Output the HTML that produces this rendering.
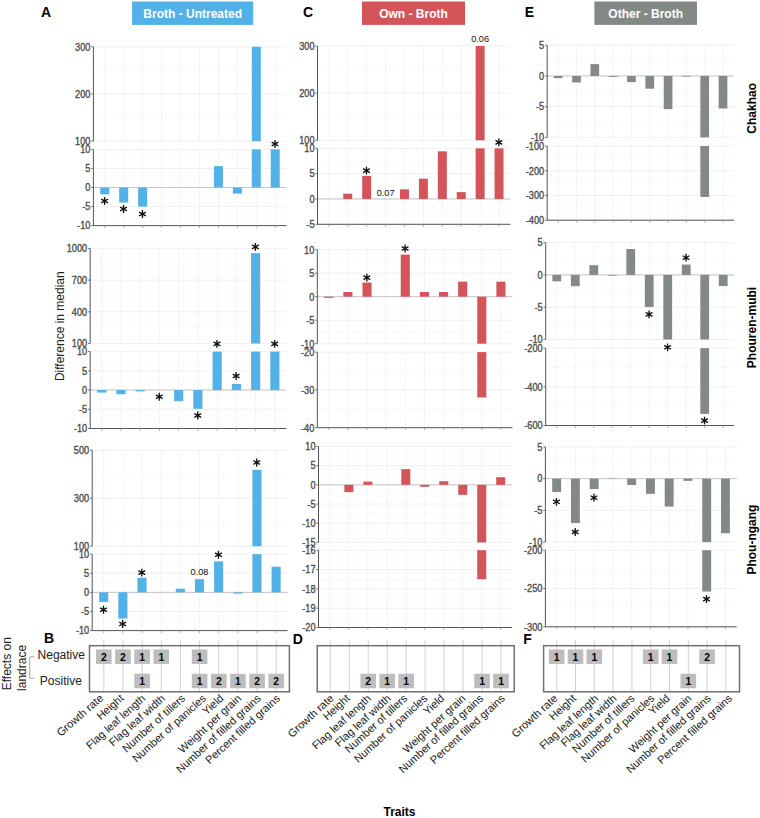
<!DOCTYPE html><html><head><meta charset="utf-8"><style>html,body{margin:0;padding:0;background:#fff;}svg{display:block;}</style></head><body>
<svg width="760" height="818" viewBox="0 0 760 818" font-family='"Liberation Sans", sans-serif'>
<rect width="760" height="818" fill="#fff"/>
<line x1="93.4" y1="70.41" x2="286.6" y2="70.41" stroke="#f5f5f5" stroke-width="0.6"/>
<line x1="93.4" y1="117.64" x2="286.6" y2="117.64" stroke="#f5f5f5" stroke-width="0.6"/>
<line x1="93.4" y1="46.8" x2="286.6" y2="46.8" stroke="#ececec" stroke-width="0.8"/>
<line x1="93.4" y1="94.03" x2="286.6" y2="94.03" stroke="#ececec" stroke-width="0.8"/>
<line x1="93.4" y1="141.25" x2="286.6" y2="141.25" stroke="#ececec" stroke-width="0.8"/>
<line x1="93.4" y1="158.93" x2="286.6" y2="158.93" stroke="#f5f5f5" stroke-width="0.6"/>
<line x1="93.4" y1="177.97" x2="286.6" y2="177.97" stroke="#f5f5f5" stroke-width="0.6"/>
<line x1="93.4" y1="197.03" x2="286.6" y2="197.03" stroke="#f5f5f5" stroke-width="0.6"/>
<line x1="93.4" y1="216.07" x2="286.6" y2="216.07" stroke="#f5f5f5" stroke-width="0.6"/>
<line x1="93.4" y1="149.4" x2="286.6" y2="149.4" stroke="#ececec" stroke-width="0.8"/>
<line x1="93.4" y1="168.45" x2="286.6" y2="168.45" stroke="#ececec" stroke-width="0.8"/>
<line x1="93.4" y1="187.5" x2="286.6" y2="187.5" stroke="#ececec" stroke-width="0.8"/>
<line x1="93.4" y1="206.55" x2="286.6" y2="206.55" stroke="#ececec" stroke-width="0.8"/>
<line x1="93.4" y1="225.6" x2="286.6" y2="225.6" stroke="#ececec" stroke-width="0.8"/>
<line x1="104.76" y1="46.8" x2="104.76" y2="141.25" stroke="#efefef" stroke-width="0.7"/>
<line x1="123.71" y1="46.8" x2="123.71" y2="141.25" stroke="#efefef" stroke-width="0.7"/>
<line x1="142.65" y1="46.8" x2="142.65" y2="141.25" stroke="#efefef" stroke-width="0.7"/>
<line x1="161.59" y1="46.8" x2="161.59" y2="141.25" stroke="#efefef" stroke-width="0.7"/>
<line x1="180.53" y1="46.8" x2="180.53" y2="141.25" stroke="#efefef" stroke-width="0.7"/>
<line x1="199.47" y1="46.8" x2="199.47" y2="141.25" stroke="#efefef" stroke-width="0.7"/>
<line x1="218.41" y1="46.8" x2="218.41" y2="141.25" stroke="#efefef" stroke-width="0.7"/>
<line x1="237.35" y1="46.8" x2="237.35" y2="141.25" stroke="#efefef" stroke-width="0.7"/>
<line x1="256.29" y1="46.8" x2="256.29" y2="141.25" stroke="#efefef" stroke-width="0.7"/>
<line x1="275.24" y1="46.8" x2="275.24" y2="141.25" stroke="#efefef" stroke-width="0.7"/>
<line x1="104.76" y1="149.4" x2="104.76" y2="225.6" stroke="#efefef" stroke-width="0.7"/>
<line x1="123.71" y1="149.4" x2="123.71" y2="225.6" stroke="#efefef" stroke-width="0.7"/>
<line x1="142.65" y1="149.4" x2="142.65" y2="225.6" stroke="#efefef" stroke-width="0.7"/>
<line x1="161.59" y1="149.4" x2="161.59" y2="225.6" stroke="#efefef" stroke-width="0.7"/>
<line x1="180.53" y1="149.4" x2="180.53" y2="225.6" stroke="#efefef" stroke-width="0.7"/>
<line x1="199.47" y1="149.4" x2="199.47" y2="225.6" stroke="#efefef" stroke-width="0.7"/>
<line x1="218.41" y1="149.4" x2="218.41" y2="225.6" stroke="#efefef" stroke-width="0.7"/>
<line x1="237.35" y1="149.4" x2="237.35" y2="225.6" stroke="#efefef" stroke-width="0.7"/>
<line x1="256.29" y1="149.4" x2="256.29" y2="225.6" stroke="#efefef" stroke-width="0.7"/>
<line x1="275.24" y1="149.4" x2="275.24" y2="225.6" stroke="#efefef" stroke-width="0.7"/>
<line x1="93.4" y1="187.5" x2="286.6" y2="187.5" stroke="#c2c2c2" stroke-width="0.9"/>
<rect x="100.27" y="187.5" width="9" height="6.86" fill="#52b1e6"/>
<rect x="119.21" y="187.5" width="9" height="15.05" fill="#52b1e6"/>
<rect x="138.15" y="187.5" width="9" height="19.05" fill="#52b1e6"/>
<rect x="213.91" y="166.16" width="9" height="21.34" fill="#52b1e6"/>
<rect x="232.85" y="187.5" width="9" height="6.1" fill="#52b1e6"/>
<rect x="251.8" y="46.8" width="9" height="94.45" fill="#52b1e6"/>
<rect x="251.8" y="149.4" width="9" height="38.1" fill="#52b1e6"/>
<rect x="270.74" y="149.4" width="9" height="38.1" fill="#52b1e6"/>
<line x1="93.4" y1="46.8" x2="93.4" y2="141.25" stroke="#555555" stroke-width="1"/>
<line x1="91.2" y1="46.8" x2="93.4" y2="46.8" stroke="#555555" stroke-width="0.8"/>
<text font-size="10" fill="#4d4d4d" stroke="#4d4d4d" stroke-width="0.35" text-anchor="end" font-weight="normal" transform="translate(90.4 50.6) scale(0.92 1)">300</text>
<line x1="91.2" y1="94.03" x2="93.4" y2="94.03" stroke="#555555" stroke-width="0.8"/>
<text font-size="10" fill="#4d4d4d" stroke="#4d4d4d" stroke-width="0.35" text-anchor="end" font-weight="normal" transform="translate(90.4 97.83) scale(0.92 1)">200</text>
<line x1="91.2" y1="141.25" x2="93.4" y2="141.25" stroke="#555555" stroke-width="0.8"/>
<text font-size="10" fill="#4d4d4d" stroke="#4d4d4d" stroke-width="0.35" text-anchor="end" font-weight="normal" transform="translate(90.4 145.05) scale(0.92 1)">100</text>
<line x1="93.4" y1="149.4" x2="93.4" y2="225.6" stroke="#555555" stroke-width="1"/>
<line x1="91.2" y1="149.4" x2="93.4" y2="149.4" stroke="#555555" stroke-width="0.8"/>
<text font-size="10" fill="#4d4d4d" stroke="#4d4d4d" stroke-width="0.35" text-anchor="end" font-weight="normal" transform="translate(90.4 153.2) scale(0.92 1)">10</text>
<line x1="91.2" y1="168.45" x2="93.4" y2="168.45" stroke="#555555" stroke-width="0.8"/>
<text font-size="10" fill="#4d4d4d" stroke="#4d4d4d" stroke-width="0.35" text-anchor="end" font-weight="normal" transform="translate(90.4 172.25) scale(0.92 1)">5</text>
<line x1="91.2" y1="187.5" x2="93.4" y2="187.5" stroke="#555555" stroke-width="0.8"/>
<text font-size="10" fill="#4d4d4d" stroke="#4d4d4d" stroke-width="0.35" text-anchor="end" font-weight="normal" transform="translate(90.4 191.3) scale(0.92 1)">0</text>
<line x1="91.2" y1="206.55" x2="93.4" y2="206.55" stroke="#555555" stroke-width="0.8"/>
<text font-size="10" fill="#4d4d4d" stroke="#4d4d4d" stroke-width="0.35" text-anchor="end" font-weight="normal" transform="translate(90.4 210.35) scale(0.92 1)">-5</text>
<line x1="91.2" y1="225.6" x2="93.4" y2="225.6" stroke="#555555" stroke-width="0.8"/>
<text font-size="10" fill="#4d4d4d" stroke="#4d4d4d" stroke-width="0.35" text-anchor="end" font-weight="normal" transform="translate(90.4 229.4) scale(0.92 1)">-10</text>
<line x1="93.4" y1="225.6" x2="286.6" y2="225.6" stroke="#555555" stroke-width="1"/>
<line x1="104.76" y1="225.6" x2="104.76" y2="228.1" stroke="#9a9a9a" stroke-width="0.8"/>
<line x1="123.71" y1="225.6" x2="123.71" y2="228.1" stroke="#9a9a9a" stroke-width="0.8"/>
<line x1="142.65" y1="225.6" x2="142.65" y2="228.1" stroke="#9a9a9a" stroke-width="0.8"/>
<line x1="161.59" y1="225.6" x2="161.59" y2="228.1" stroke="#9a9a9a" stroke-width="0.8"/>
<line x1="180.53" y1="225.6" x2="180.53" y2="228.1" stroke="#9a9a9a" stroke-width="0.8"/>
<line x1="199.47" y1="225.6" x2="199.47" y2="228.1" stroke="#9a9a9a" stroke-width="0.8"/>
<line x1="218.41" y1="225.6" x2="218.41" y2="228.1" stroke="#9a9a9a" stroke-width="0.8"/>
<line x1="237.35" y1="225.6" x2="237.35" y2="228.1" stroke="#9a9a9a" stroke-width="0.8"/>
<line x1="256.29" y1="225.6" x2="256.29" y2="228.1" stroke="#9a9a9a" stroke-width="0.8"/>
<line x1="275.24" y1="225.6" x2="275.24" y2="228.1" stroke="#9a9a9a" stroke-width="0.8"/>
<path d="M104.56 197.1L104.56 204.9M101.19 199.05L107.94 202.95M101.19 202.95L107.94 199.05" stroke="#111" stroke-width="1.35" stroke-linecap="butt"/>
<path d="M123.51 205.1L123.51 212.9M120.13 207.05L126.88 210.95M120.13 210.95L126.88 207.05" stroke="#111" stroke-width="1.35" stroke-linecap="butt"/>
<path d="M142.45 210.1L142.45 217.9M139.07 212.05L145.82 215.95M139.07 215.95L145.82 212.05" stroke="#111" stroke-width="1.35" stroke-linecap="butt"/>
<path d="M275.04 140.1L275.04 147.9M271.66 142.05L278.41 145.95M271.66 145.95L278.41 142.05" stroke="#111" stroke-width="1.35" stroke-linecap="butt"/>
<line x1="90.2" y1="264.25" x2="286.4" y2="264.25" stroke="#f5f5f5" stroke-width="0.6"/>
<line x1="90.2" y1="295.95" x2="286.4" y2="295.95" stroke="#f5f5f5" stroke-width="0.6"/>
<line x1="90.2" y1="327.65" x2="286.4" y2="327.65" stroke="#f5f5f5" stroke-width="0.6"/>
<line x1="90.2" y1="248.4" x2="286.4" y2="248.4" stroke="#ececec" stroke-width="0.8"/>
<line x1="90.2" y1="280.1" x2="286.4" y2="280.1" stroke="#ececec" stroke-width="0.8"/>
<line x1="90.2" y1="311.8" x2="286.4" y2="311.8" stroke="#ececec" stroke-width="0.8"/>
<line x1="90.2" y1="343.5" x2="286.4" y2="343.5" stroke="#ececec" stroke-width="0.8"/>
<line x1="90.2" y1="361.21" x2="286.4" y2="361.21" stroke="#f5f5f5" stroke-width="0.6"/>
<line x1="90.2" y1="380.44" x2="286.4" y2="380.44" stroke="#f5f5f5" stroke-width="0.6"/>
<line x1="90.2" y1="399.66" x2="286.4" y2="399.66" stroke="#f5f5f5" stroke-width="0.6"/>
<line x1="90.2" y1="418.89" x2="286.4" y2="418.89" stroke="#f5f5f5" stroke-width="0.6"/>
<line x1="90.2" y1="351.6" x2="286.4" y2="351.6" stroke="#ececec" stroke-width="0.8"/>
<line x1="90.2" y1="370.83" x2="286.4" y2="370.83" stroke="#ececec" stroke-width="0.8"/>
<line x1="90.2" y1="390.05" x2="286.4" y2="390.05" stroke="#ececec" stroke-width="0.8"/>
<line x1="90.2" y1="409.27" x2="286.4" y2="409.27" stroke="#ececec" stroke-width="0.8"/>
<line x1="90.2" y1="428.5" x2="286.4" y2="428.5" stroke="#ececec" stroke-width="0.8"/>
<line x1="101.74" y1="248.4" x2="101.74" y2="343.5" stroke="#efefef" stroke-width="0.7"/>
<line x1="120.98" y1="248.4" x2="120.98" y2="343.5" stroke="#efefef" stroke-width="0.7"/>
<line x1="140.21" y1="248.4" x2="140.21" y2="343.5" stroke="#efefef" stroke-width="0.7"/>
<line x1="159.45" y1="248.4" x2="159.45" y2="343.5" stroke="#efefef" stroke-width="0.7"/>
<line x1="178.68" y1="248.4" x2="178.68" y2="343.5" stroke="#efefef" stroke-width="0.7"/>
<line x1="197.92" y1="248.4" x2="197.92" y2="343.5" stroke="#efefef" stroke-width="0.7"/>
<line x1="217.15" y1="248.4" x2="217.15" y2="343.5" stroke="#efefef" stroke-width="0.7"/>
<line x1="236.39" y1="248.4" x2="236.39" y2="343.5" stroke="#efefef" stroke-width="0.7"/>
<line x1="255.62" y1="248.4" x2="255.62" y2="343.5" stroke="#efefef" stroke-width="0.7"/>
<line x1="274.86" y1="248.4" x2="274.86" y2="343.5" stroke="#efefef" stroke-width="0.7"/>
<line x1="101.74" y1="351.6" x2="101.74" y2="428.5" stroke="#efefef" stroke-width="0.7"/>
<line x1="120.98" y1="351.6" x2="120.98" y2="428.5" stroke="#efefef" stroke-width="0.7"/>
<line x1="140.21" y1="351.6" x2="140.21" y2="428.5" stroke="#efefef" stroke-width="0.7"/>
<line x1="159.45" y1="351.6" x2="159.45" y2="428.5" stroke="#efefef" stroke-width="0.7"/>
<line x1="178.68" y1="351.6" x2="178.68" y2="428.5" stroke="#efefef" stroke-width="0.7"/>
<line x1="197.92" y1="351.6" x2="197.92" y2="428.5" stroke="#efefef" stroke-width="0.7"/>
<line x1="217.15" y1="351.6" x2="217.15" y2="428.5" stroke="#efefef" stroke-width="0.7"/>
<line x1="236.39" y1="351.6" x2="236.39" y2="428.5" stroke="#efefef" stroke-width="0.7"/>
<line x1="255.62" y1="351.6" x2="255.62" y2="428.5" stroke="#efefef" stroke-width="0.7"/>
<line x1="274.86" y1="351.6" x2="274.86" y2="428.5" stroke="#efefef" stroke-width="0.7"/>
<line x1="90.2" y1="390.05" x2="286.4" y2="390.05" stroke="#c2c2c2" stroke-width="0.9"/>
<rect x="97.17" y="390.05" width="9.14" height="2.5" fill="#52b1e6"/>
<rect x="116.41" y="390.05" width="9.14" height="4.23" fill="#52b1e6"/>
<rect x="135.64" y="390.05" width="9.14" height="1.35" fill="#52b1e6"/>
<rect x="174.11" y="390.05" width="9.14" height="11.15" fill="#52b1e6"/>
<rect x="193.35" y="390.05" width="9.14" height="18.73" fill="#52b1e6"/>
<rect x="212.58" y="351.6" width="9.14" height="38.45" fill="#52b1e6"/>
<rect x="231.82" y="383.9" width="9.14" height="6.15" fill="#52b1e6"/>
<rect x="251.06" y="253.16" width="9.14" height="90.34" fill="#52b1e6"/>
<rect x="251.06" y="351.6" width="9.14" height="38.45" fill="#52b1e6"/>
<rect x="270.29" y="351.6" width="9.14" height="38.45" fill="#52b1e6"/>
<line x1="90.2" y1="248.4" x2="90.2" y2="343.5" stroke="#555555" stroke-width="1"/>
<line x1="88" y1="248.4" x2="90.2" y2="248.4" stroke="#555555" stroke-width="0.8"/>
<text font-size="10" fill="#4d4d4d" stroke="#4d4d4d" stroke-width="0.35" text-anchor="end" font-weight="normal" transform="translate(87.2 252.2) scale(0.92 1)">1000</text>
<line x1="88" y1="280.1" x2="90.2" y2="280.1" stroke="#555555" stroke-width="0.8"/>
<text font-size="10" fill="#4d4d4d" stroke="#4d4d4d" stroke-width="0.35" text-anchor="end" font-weight="normal" transform="translate(87.2 283.9) scale(0.92 1)">700</text>
<line x1="88" y1="311.8" x2="90.2" y2="311.8" stroke="#555555" stroke-width="0.8"/>
<text font-size="10" fill="#4d4d4d" stroke="#4d4d4d" stroke-width="0.35" text-anchor="end" font-weight="normal" transform="translate(87.2 315.6) scale(0.92 1)">400</text>
<line x1="88" y1="343.5" x2="90.2" y2="343.5" stroke="#555555" stroke-width="0.8"/>
<text font-size="10" fill="#4d4d4d" stroke="#4d4d4d" stroke-width="0.35" text-anchor="end" font-weight="normal" transform="translate(87.2 347.3) scale(0.92 1)">100</text>
<line x1="90.2" y1="351.6" x2="90.2" y2="428.5" stroke="#555555" stroke-width="1"/>
<line x1="88" y1="351.6" x2="90.2" y2="351.6" stroke="#555555" stroke-width="0.8"/>
<text font-size="10" fill="#4d4d4d" stroke="#4d4d4d" stroke-width="0.35" text-anchor="end" font-weight="normal" transform="translate(87.2 355.4) scale(0.92 1)">10</text>
<line x1="88" y1="370.83" x2="90.2" y2="370.83" stroke="#555555" stroke-width="0.8"/>
<text font-size="10" fill="#4d4d4d" stroke="#4d4d4d" stroke-width="0.35" text-anchor="end" font-weight="normal" transform="translate(87.2 374.63) scale(0.92 1)">5</text>
<line x1="88" y1="390.05" x2="90.2" y2="390.05" stroke="#555555" stroke-width="0.8"/>
<text font-size="10" fill="#4d4d4d" stroke="#4d4d4d" stroke-width="0.35" text-anchor="end" font-weight="normal" transform="translate(87.2 393.85) scale(0.92 1)">0</text>
<line x1="88" y1="409.27" x2="90.2" y2="409.27" stroke="#555555" stroke-width="0.8"/>
<text font-size="10" fill="#4d4d4d" stroke="#4d4d4d" stroke-width="0.35" text-anchor="end" font-weight="normal" transform="translate(87.2 413.07) scale(0.92 1)">-5</text>
<line x1="88" y1="428.5" x2="90.2" y2="428.5" stroke="#555555" stroke-width="0.8"/>
<text font-size="10" fill="#4d4d4d" stroke="#4d4d4d" stroke-width="0.35" text-anchor="end" font-weight="normal" transform="translate(87.2 432.3) scale(0.92 1)">-10</text>
<line x1="90.2" y1="428.5" x2="286.4" y2="428.5" stroke="#555555" stroke-width="1"/>
<line x1="101.74" y1="428.5" x2="101.74" y2="431" stroke="#9a9a9a" stroke-width="0.8"/>
<line x1="120.98" y1="428.5" x2="120.98" y2="431" stroke="#9a9a9a" stroke-width="0.8"/>
<line x1="140.21" y1="428.5" x2="140.21" y2="431" stroke="#9a9a9a" stroke-width="0.8"/>
<line x1="159.45" y1="428.5" x2="159.45" y2="431" stroke="#9a9a9a" stroke-width="0.8"/>
<line x1="178.68" y1="428.5" x2="178.68" y2="431" stroke="#9a9a9a" stroke-width="0.8"/>
<line x1="197.92" y1="428.5" x2="197.92" y2="431" stroke="#9a9a9a" stroke-width="0.8"/>
<line x1="217.15" y1="428.5" x2="217.15" y2="431" stroke="#9a9a9a" stroke-width="0.8"/>
<line x1="236.39" y1="428.5" x2="236.39" y2="431" stroke="#9a9a9a" stroke-width="0.8"/>
<line x1="255.62" y1="428.5" x2="255.62" y2="431" stroke="#9a9a9a" stroke-width="0.8"/>
<line x1="274.86" y1="428.5" x2="274.86" y2="431" stroke="#9a9a9a" stroke-width="0.8"/>
<path d="M159.25 392.85L159.25 400.65M155.87 394.8L162.62 398.7M155.87 398.7L162.62 394.8" stroke="#111" stroke-width="1.35" stroke-linecap="butt"/>
<path d="M197.72 411.6L197.72 419.4M194.34 413.55L201.1 417.45M194.34 417.45L201.1 413.55" stroke="#111" stroke-width="1.35" stroke-linecap="butt"/>
<path d="M216.95 340L216.95 347.8M213.58 341.95L220.33 345.85M213.58 345.85L220.33 341.95" stroke="#111" stroke-width="1.35" stroke-linecap="butt"/>
<path d="M236.19 372.1L236.19 379.9M232.81 374.05L239.57 377.95M232.81 377.95L239.57 374.05" stroke="#111" stroke-width="1.35" stroke-linecap="butt"/>
<path d="M255.42 243L255.42 250.8M252.05 244.95L258.8 248.85M252.05 248.85L258.8 244.95" stroke="#111" stroke-width="1.35" stroke-linecap="butt"/>
<path d="M274.66 340L274.66 347.8M271.28 341.95L278.04 345.85M271.28 345.85L278.04 341.95" stroke="#111" stroke-width="1.35" stroke-linecap="butt"/>
<line x1="92.2" y1="474.25" x2="287.6" y2="474.25" stroke="#f5f5f5" stroke-width="0.6"/>
<line x1="92.2" y1="522.25" x2="287.6" y2="522.25" stroke="#f5f5f5" stroke-width="0.6"/>
<line x1="92.2" y1="450.25" x2="287.6" y2="450.25" stroke="#ececec" stroke-width="0.8"/>
<line x1="92.2" y1="498.25" x2="287.6" y2="498.25" stroke="#ececec" stroke-width="0.8"/>
<line x1="92.2" y1="546.25" x2="287.6" y2="546.25" stroke="#ececec" stroke-width="0.8"/>
<line x1="92.2" y1="563.66" x2="287.6" y2="563.66" stroke="#f5f5f5" stroke-width="0.6"/>
<line x1="92.2" y1="582.79" x2="287.6" y2="582.79" stroke="#f5f5f5" stroke-width="0.6"/>
<line x1="92.2" y1="601.91" x2="287.6" y2="601.91" stroke="#f5f5f5" stroke-width="0.6"/>
<line x1="92.2" y1="621.04" x2="287.6" y2="621.04" stroke="#f5f5f5" stroke-width="0.6"/>
<line x1="92.2" y1="554.1" x2="287.6" y2="554.1" stroke="#ececec" stroke-width="0.8"/>
<line x1="92.2" y1="573.23" x2="287.6" y2="573.23" stroke="#ececec" stroke-width="0.8"/>
<line x1="92.2" y1="592.35" x2="287.6" y2="592.35" stroke="#ececec" stroke-width="0.8"/>
<line x1="92.2" y1="611.48" x2="287.6" y2="611.48" stroke="#ececec" stroke-width="0.8"/>
<line x1="92.2" y1="630.6" x2="287.6" y2="630.6" stroke="#ececec" stroke-width="0.8"/>
<line x1="103.69" y1="450.25" x2="103.69" y2="546.25" stroke="#efefef" stroke-width="0.7"/>
<line x1="122.85" y1="450.25" x2="122.85" y2="546.25" stroke="#efefef" stroke-width="0.7"/>
<line x1="142.01" y1="450.25" x2="142.01" y2="546.25" stroke="#efefef" stroke-width="0.7"/>
<line x1="161.16" y1="450.25" x2="161.16" y2="546.25" stroke="#efefef" stroke-width="0.7"/>
<line x1="180.32" y1="450.25" x2="180.32" y2="546.25" stroke="#efefef" stroke-width="0.7"/>
<line x1="199.48" y1="450.25" x2="199.48" y2="546.25" stroke="#efefef" stroke-width="0.7"/>
<line x1="218.64" y1="450.25" x2="218.64" y2="546.25" stroke="#efefef" stroke-width="0.7"/>
<line x1="237.79" y1="450.25" x2="237.79" y2="546.25" stroke="#efefef" stroke-width="0.7"/>
<line x1="256.95" y1="450.25" x2="256.95" y2="546.25" stroke="#efefef" stroke-width="0.7"/>
<line x1="276.11" y1="450.25" x2="276.11" y2="546.25" stroke="#efefef" stroke-width="0.7"/>
<line x1="103.69" y1="554.1" x2="103.69" y2="630.6" stroke="#efefef" stroke-width="0.7"/>
<line x1="122.85" y1="554.1" x2="122.85" y2="630.6" stroke="#efefef" stroke-width="0.7"/>
<line x1="142.01" y1="554.1" x2="142.01" y2="630.6" stroke="#efefef" stroke-width="0.7"/>
<line x1="161.16" y1="554.1" x2="161.16" y2="630.6" stroke="#efefef" stroke-width="0.7"/>
<line x1="180.32" y1="554.1" x2="180.32" y2="630.6" stroke="#efefef" stroke-width="0.7"/>
<line x1="199.48" y1="554.1" x2="199.48" y2="630.6" stroke="#efefef" stroke-width="0.7"/>
<line x1="218.64" y1="554.1" x2="218.64" y2="630.6" stroke="#efefef" stroke-width="0.7"/>
<line x1="237.79" y1="554.1" x2="237.79" y2="630.6" stroke="#efefef" stroke-width="0.7"/>
<line x1="256.95" y1="554.1" x2="256.95" y2="630.6" stroke="#efefef" stroke-width="0.7"/>
<line x1="276.11" y1="554.1" x2="276.11" y2="630.6" stroke="#efefef" stroke-width="0.7"/>
<line x1="92.2" y1="592.35" x2="287.6" y2="592.35" stroke="#c2c2c2" stroke-width="0.9"/>
<rect x="99.14" y="592.35" width="9.1" height="9.56" fill="#52b1e6"/>
<rect x="118.3" y="592.35" width="9.1" height="26.2" fill="#52b1e6"/>
<rect x="137.46" y="577.82" width="9.1" height="14.53" fill="#52b1e6"/>
<rect x="175.77" y="588.72" width="9.1" height="3.63" fill="#52b1e6"/>
<rect x="194.93" y="579.15" width="9.1" height="13.2" fill="#52b1e6"/>
<rect x="214.09" y="561.37" width="9.1" height="30.98" fill="#52b1e6"/>
<rect x="233.24" y="592.35" width="9.1" height="1.34" fill="#52b1e6"/>
<rect x="252.4" y="469.93" width="9.1" height="76.32" fill="#52b1e6"/>
<rect x="252.4" y="554.1" width="9.1" height="38.25" fill="#52b1e6"/>
<rect x="271.56" y="566.72" width="9.1" height="25.63" fill="#52b1e6"/>
<line x1="92.2" y1="450.25" x2="92.2" y2="546.25" stroke="#555555" stroke-width="1"/>
<line x1="90" y1="450.25" x2="92.2" y2="450.25" stroke="#555555" stroke-width="0.8"/>
<text font-size="10" fill="#4d4d4d" stroke="#4d4d4d" stroke-width="0.35" text-anchor="end" font-weight="normal" transform="translate(89.2 454.05) scale(0.92 1)">500</text>
<line x1="90" y1="498.25" x2="92.2" y2="498.25" stroke="#555555" stroke-width="0.8"/>
<text font-size="10" fill="#4d4d4d" stroke="#4d4d4d" stroke-width="0.35" text-anchor="end" font-weight="normal" transform="translate(89.2 502.05) scale(0.92 1)">300</text>
<line x1="90" y1="546.25" x2="92.2" y2="546.25" stroke="#555555" stroke-width="0.8"/>
<text font-size="10" fill="#4d4d4d" stroke="#4d4d4d" stroke-width="0.35" text-anchor="end" font-weight="normal" transform="translate(89.2 550.05) scale(0.92 1)">100</text>
<line x1="92.2" y1="554.1" x2="92.2" y2="630.6" stroke="#555555" stroke-width="1"/>
<line x1="90" y1="554.1" x2="92.2" y2="554.1" stroke="#555555" stroke-width="0.8"/>
<text font-size="10" fill="#4d4d4d" stroke="#4d4d4d" stroke-width="0.35" text-anchor="end" font-weight="normal" transform="translate(89.2 557.9) scale(0.92 1)">10</text>
<line x1="90" y1="573.23" x2="92.2" y2="573.23" stroke="#555555" stroke-width="0.8"/>
<text font-size="10" fill="#4d4d4d" stroke="#4d4d4d" stroke-width="0.35" text-anchor="end" font-weight="normal" transform="translate(89.2 577.02) scale(0.92 1)">5</text>
<line x1="90" y1="592.35" x2="92.2" y2="592.35" stroke="#555555" stroke-width="0.8"/>
<text font-size="10" fill="#4d4d4d" stroke="#4d4d4d" stroke-width="0.35" text-anchor="end" font-weight="normal" transform="translate(89.2 596.15) scale(0.92 1)">0</text>
<line x1="90" y1="611.48" x2="92.2" y2="611.48" stroke="#555555" stroke-width="0.8"/>
<text font-size="10" fill="#4d4d4d" stroke="#4d4d4d" stroke-width="0.35" text-anchor="end" font-weight="normal" transform="translate(89.2 615.27) scale(0.92 1)">-5</text>
<line x1="90" y1="630.6" x2="92.2" y2="630.6" stroke="#555555" stroke-width="0.8"/>
<text font-size="10" fill="#4d4d4d" stroke="#4d4d4d" stroke-width="0.35" text-anchor="end" font-weight="normal" transform="translate(89.2 634.4) scale(0.92 1)">-10</text>
<line x1="92.2" y1="630.6" x2="287.6" y2="630.6" stroke="#555555" stroke-width="1"/>
<line x1="103.69" y1="630.6" x2="103.69" y2="633.1" stroke="#9a9a9a" stroke-width="0.8"/>
<line x1="122.85" y1="630.6" x2="122.85" y2="633.1" stroke="#9a9a9a" stroke-width="0.8"/>
<line x1="142.01" y1="630.6" x2="142.01" y2="633.1" stroke="#9a9a9a" stroke-width="0.8"/>
<line x1="161.16" y1="630.6" x2="161.16" y2="633.1" stroke="#9a9a9a" stroke-width="0.8"/>
<line x1="180.32" y1="630.6" x2="180.32" y2="633.1" stroke="#9a9a9a" stroke-width="0.8"/>
<line x1="199.48" y1="630.6" x2="199.48" y2="633.1" stroke="#9a9a9a" stroke-width="0.8"/>
<line x1="218.64" y1="630.6" x2="218.64" y2="633.1" stroke="#9a9a9a" stroke-width="0.8"/>
<line x1="237.79" y1="630.6" x2="237.79" y2="633.1" stroke="#9a9a9a" stroke-width="0.8"/>
<line x1="256.95" y1="630.6" x2="256.95" y2="633.1" stroke="#9a9a9a" stroke-width="0.8"/>
<line x1="276.11" y1="630.6" x2="276.11" y2="633.1" stroke="#9a9a9a" stroke-width="0.8"/>
<path d="M103.49 605.85L103.49 613.65M100.12 607.8L106.87 611.7M100.12 611.7L106.87 607.8" stroke="#111" stroke-width="1.35" stroke-linecap="butt"/>
<path d="M122.65 620.1L122.65 627.9M119.27 622.05L126.03 625.95M119.27 625.95L126.03 622.05" stroke="#111" stroke-width="1.35" stroke-linecap="butt"/>
<path d="M141.81 568.7L141.81 576.5M138.43 570.65L145.19 574.55M138.43 574.55L145.19 570.65" stroke="#111" stroke-width="1.35" stroke-linecap="butt"/>
<path d="M218.44 550.85L218.44 558.65M215.06 552.8L221.81 556.7M215.06 556.7L221.81 552.8" stroke="#111" stroke-width="1.35" stroke-linecap="butt"/>
<path d="M256.75 458.6L256.75 466.4M253.37 460.55L260.13 464.45M253.37 464.45L260.13 460.55" stroke="#111" stroke-width="1.35" stroke-linecap="butt"/>
<text x="199.48" y="575.4" font-size="9.2" fill="#111" text-anchor="middle" font-weight="normal" >0.08</text>
<line x1="317.5" y1="69.58" x2="510.4" y2="69.58" stroke="#f5f5f5" stroke-width="0.6"/>
<line x1="317.5" y1="116.73" x2="510.4" y2="116.73" stroke="#f5f5f5" stroke-width="0.6"/>
<line x1="317.5" y1="46" x2="510.4" y2="46" stroke="#ececec" stroke-width="0.8"/>
<line x1="317.5" y1="93.15" x2="510.4" y2="93.15" stroke="#ececec" stroke-width="0.8"/>
<line x1="317.5" y1="140.3" x2="510.4" y2="140.3" stroke="#ececec" stroke-width="0.8"/>
<line x1="317.5" y1="160.97" x2="510.4" y2="160.97" stroke="#f5f5f5" stroke-width="0.6"/>
<line x1="317.5" y1="186.3" x2="510.4" y2="186.3" stroke="#f5f5f5" stroke-width="0.6"/>
<line x1="317.5" y1="211.63" x2="510.4" y2="211.63" stroke="#f5f5f5" stroke-width="0.6"/>
<line x1="317.5" y1="148.3" x2="510.4" y2="148.3" stroke="#ececec" stroke-width="0.8"/>
<line x1="317.5" y1="173.63" x2="510.4" y2="173.63" stroke="#ececec" stroke-width="0.8"/>
<line x1="317.5" y1="198.97" x2="510.4" y2="198.97" stroke="#ececec" stroke-width="0.8"/>
<line x1="317.5" y1="224.3" x2="510.4" y2="224.3" stroke="#ececec" stroke-width="0.8"/>
<line x1="328.85" y1="46" x2="328.85" y2="140.3" stroke="#efefef" stroke-width="0.7"/>
<line x1="347.76" y1="46" x2="347.76" y2="140.3" stroke="#efefef" stroke-width="0.7"/>
<line x1="366.67" y1="46" x2="366.67" y2="140.3" stroke="#efefef" stroke-width="0.7"/>
<line x1="385.58" y1="46" x2="385.58" y2="140.3" stroke="#efefef" stroke-width="0.7"/>
<line x1="404.49" y1="46" x2="404.49" y2="140.3" stroke="#efefef" stroke-width="0.7"/>
<line x1="423.41" y1="46" x2="423.41" y2="140.3" stroke="#efefef" stroke-width="0.7"/>
<line x1="442.32" y1="46" x2="442.32" y2="140.3" stroke="#efefef" stroke-width="0.7"/>
<line x1="461.23" y1="46" x2="461.23" y2="140.3" stroke="#efefef" stroke-width="0.7"/>
<line x1="480.14" y1="46" x2="480.14" y2="140.3" stroke="#efefef" stroke-width="0.7"/>
<line x1="499.05" y1="46" x2="499.05" y2="140.3" stroke="#efefef" stroke-width="0.7"/>
<line x1="328.85" y1="148.3" x2="328.85" y2="224.3" stroke="#efefef" stroke-width="0.7"/>
<line x1="347.76" y1="148.3" x2="347.76" y2="224.3" stroke="#efefef" stroke-width="0.7"/>
<line x1="366.67" y1="148.3" x2="366.67" y2="224.3" stroke="#efefef" stroke-width="0.7"/>
<line x1="385.58" y1="148.3" x2="385.58" y2="224.3" stroke="#efefef" stroke-width="0.7"/>
<line x1="404.49" y1="148.3" x2="404.49" y2="224.3" stroke="#efefef" stroke-width="0.7"/>
<line x1="423.41" y1="148.3" x2="423.41" y2="224.3" stroke="#efefef" stroke-width="0.7"/>
<line x1="442.32" y1="148.3" x2="442.32" y2="224.3" stroke="#efefef" stroke-width="0.7"/>
<line x1="461.23" y1="148.3" x2="461.23" y2="224.3" stroke="#efefef" stroke-width="0.7"/>
<line x1="480.14" y1="148.3" x2="480.14" y2="224.3" stroke="#efefef" stroke-width="0.7"/>
<line x1="499.05" y1="148.3" x2="499.05" y2="224.3" stroke="#efefef" stroke-width="0.7"/>
<line x1="317.5" y1="198.97" x2="510.4" y2="198.97" stroke="#c2c2c2" stroke-width="0.9"/>
<rect x="343.27" y="193.65" width="8.98" height="5.32" fill="#d3555a"/>
<rect x="362.18" y="175.91" width="8.98" height="23.05" fill="#d3555a"/>
<rect x="400" y="189.34" width="8.98" height="9.63" fill="#d3555a"/>
<rect x="418.91" y="178.7" width="8.98" height="20.27" fill="#d3555a"/>
<rect x="437.83" y="151.34" width="8.98" height="47.63" fill="#d3555a"/>
<rect x="456.74" y="192.13" width="8.98" height="6.84" fill="#d3555a"/>
<rect x="475.65" y="46" width="8.98" height="94.3" fill="#d3555a"/>
<rect x="475.65" y="148.3" width="8.98" height="50.67" fill="#d3555a"/>
<rect x="494.56" y="148.3" width="8.98" height="50.67" fill="#d3555a"/>
<line x1="317.5" y1="46" x2="317.5" y2="140.3" stroke="#555555" stroke-width="1"/>
<line x1="315.3" y1="46" x2="317.5" y2="46" stroke="#555555" stroke-width="0.8"/>
<text font-size="10" fill="#4d4d4d" stroke="#4d4d4d" stroke-width="0.35" text-anchor="end" font-weight="normal" transform="translate(314.5 49.8) scale(0.92 1)">300</text>
<line x1="315.3" y1="93.15" x2="317.5" y2="93.15" stroke="#555555" stroke-width="0.8"/>
<text font-size="10" fill="#4d4d4d" stroke="#4d4d4d" stroke-width="0.35" text-anchor="end" font-weight="normal" transform="translate(314.5 96.95) scale(0.92 1)">200</text>
<line x1="315.3" y1="140.3" x2="317.5" y2="140.3" stroke="#555555" stroke-width="0.8"/>
<text font-size="10" fill="#4d4d4d" stroke="#4d4d4d" stroke-width="0.35" text-anchor="end" font-weight="normal" transform="translate(314.5 144.1) scale(0.92 1)">100</text>
<line x1="317.5" y1="148.3" x2="317.5" y2="224.3" stroke="#555555" stroke-width="1"/>
<line x1="315.3" y1="148.3" x2="317.5" y2="148.3" stroke="#555555" stroke-width="0.8"/>
<text font-size="10" fill="#4d4d4d" stroke="#4d4d4d" stroke-width="0.35" text-anchor="end" font-weight="normal" transform="translate(314.5 152.1) scale(0.92 1)">10</text>
<line x1="315.3" y1="173.63" x2="317.5" y2="173.63" stroke="#555555" stroke-width="0.8"/>
<text font-size="10" fill="#4d4d4d" stroke="#4d4d4d" stroke-width="0.35" text-anchor="end" font-weight="normal" transform="translate(314.5 177.43) scale(0.92 1)">5</text>
<line x1="315.3" y1="198.97" x2="317.5" y2="198.97" stroke="#555555" stroke-width="0.8"/>
<text font-size="10" fill="#4d4d4d" stroke="#4d4d4d" stroke-width="0.35" text-anchor="end" font-weight="normal" transform="translate(314.5 202.77) scale(0.92 1)">0</text>
<line x1="315.3" y1="224.3" x2="317.5" y2="224.3" stroke="#555555" stroke-width="0.8"/>
<text font-size="10" fill="#4d4d4d" stroke="#4d4d4d" stroke-width="0.35" text-anchor="end" font-weight="normal" transform="translate(314.5 228.1) scale(0.92 1)">-5</text>
<line x1="317.5" y1="224.3" x2="510.4" y2="224.3" stroke="#555555" stroke-width="1"/>
<line x1="328.85" y1="224.3" x2="328.85" y2="226.8" stroke="#9a9a9a" stroke-width="0.8"/>
<line x1="347.76" y1="224.3" x2="347.76" y2="226.8" stroke="#9a9a9a" stroke-width="0.8"/>
<line x1="366.67" y1="224.3" x2="366.67" y2="226.8" stroke="#9a9a9a" stroke-width="0.8"/>
<line x1="385.58" y1="224.3" x2="385.58" y2="226.8" stroke="#9a9a9a" stroke-width="0.8"/>
<line x1="404.49" y1="224.3" x2="404.49" y2="226.8" stroke="#9a9a9a" stroke-width="0.8"/>
<line x1="423.41" y1="224.3" x2="423.41" y2="226.8" stroke="#9a9a9a" stroke-width="0.8"/>
<line x1="442.32" y1="224.3" x2="442.32" y2="226.8" stroke="#9a9a9a" stroke-width="0.8"/>
<line x1="461.23" y1="224.3" x2="461.23" y2="226.8" stroke="#9a9a9a" stroke-width="0.8"/>
<line x1="480.14" y1="224.3" x2="480.14" y2="226.8" stroke="#9a9a9a" stroke-width="0.8"/>
<line x1="499.05" y1="224.3" x2="499.05" y2="226.8" stroke="#9a9a9a" stroke-width="0.8"/>
<path d="M366.47 166.7L366.47 174.5M363.09 168.65L369.85 172.55M363.09 172.55L369.85 168.65" stroke="#111" stroke-width="1.35" stroke-linecap="butt"/>
<path d="M498.85 138.5L498.85 146.3M495.48 140.45L502.23 144.35M495.48 144.35L502.23 140.45" stroke="#111" stroke-width="1.35" stroke-linecap="butt"/>
<text x="385.58" y="195.6" font-size="9.2" fill="#111" text-anchor="middle" font-weight="normal" >0.07</text>
<text x="480.14" y="41.9" font-size="9.2" fill="#111" text-anchor="middle" font-weight="normal" >0.06</text>
<line x1="317.3" y1="261.45" x2="512.4" y2="261.45" stroke="#f5f5f5" stroke-width="0.6"/>
<line x1="317.3" y1="284.95" x2="512.4" y2="284.95" stroke="#f5f5f5" stroke-width="0.6"/>
<line x1="317.3" y1="308.45" x2="512.4" y2="308.45" stroke="#f5f5f5" stroke-width="0.6"/>
<line x1="317.3" y1="331.95" x2="512.4" y2="331.95" stroke="#f5f5f5" stroke-width="0.6"/>
<line x1="317.3" y1="249.7" x2="512.4" y2="249.7" stroke="#ececec" stroke-width="0.8"/>
<line x1="317.3" y1="273.2" x2="512.4" y2="273.2" stroke="#ececec" stroke-width="0.8"/>
<line x1="317.3" y1="296.7" x2="512.4" y2="296.7" stroke="#ececec" stroke-width="0.8"/>
<line x1="317.3" y1="320.2" x2="512.4" y2="320.2" stroke="#ececec" stroke-width="0.8"/>
<line x1="317.3" y1="343.7" x2="512.4" y2="343.7" stroke="#ececec" stroke-width="0.8"/>
<line x1="317.3" y1="371" x2="512.4" y2="371" stroke="#f5f5f5" stroke-width="0.6"/>
<line x1="317.3" y1="408.8" x2="512.4" y2="408.8" stroke="#f5f5f5" stroke-width="0.6"/>
<line x1="317.3" y1="352.1" x2="512.4" y2="352.1" stroke="#ececec" stroke-width="0.8"/>
<line x1="317.3" y1="389.9" x2="512.4" y2="389.9" stroke="#ececec" stroke-width="0.8"/>
<line x1="317.3" y1="427.7" x2="512.4" y2="427.7" stroke="#ececec" stroke-width="0.8"/>
<line x1="328.78" y1="249.7" x2="328.78" y2="343.7" stroke="#efefef" stroke-width="0.7"/>
<line x1="347.9" y1="249.7" x2="347.9" y2="343.7" stroke="#efefef" stroke-width="0.7"/>
<line x1="367.03" y1="249.7" x2="367.03" y2="343.7" stroke="#efefef" stroke-width="0.7"/>
<line x1="386.16" y1="249.7" x2="386.16" y2="343.7" stroke="#efefef" stroke-width="0.7"/>
<line x1="405.29" y1="249.7" x2="405.29" y2="343.7" stroke="#efefef" stroke-width="0.7"/>
<line x1="424.41" y1="249.7" x2="424.41" y2="343.7" stroke="#efefef" stroke-width="0.7"/>
<line x1="443.54" y1="249.7" x2="443.54" y2="343.7" stroke="#efefef" stroke-width="0.7"/>
<line x1="462.67" y1="249.7" x2="462.67" y2="343.7" stroke="#efefef" stroke-width="0.7"/>
<line x1="481.8" y1="249.7" x2="481.8" y2="343.7" stroke="#efefef" stroke-width="0.7"/>
<line x1="500.92" y1="249.7" x2="500.92" y2="343.7" stroke="#efefef" stroke-width="0.7"/>
<line x1="328.78" y1="352.1" x2="328.78" y2="427.7" stroke="#efefef" stroke-width="0.7"/>
<line x1="347.9" y1="352.1" x2="347.9" y2="427.7" stroke="#efefef" stroke-width="0.7"/>
<line x1="367.03" y1="352.1" x2="367.03" y2="427.7" stroke="#efefef" stroke-width="0.7"/>
<line x1="386.16" y1="352.1" x2="386.16" y2="427.7" stroke="#efefef" stroke-width="0.7"/>
<line x1="405.29" y1="352.1" x2="405.29" y2="427.7" stroke="#efefef" stroke-width="0.7"/>
<line x1="424.41" y1="352.1" x2="424.41" y2="427.7" stroke="#efefef" stroke-width="0.7"/>
<line x1="443.54" y1="352.1" x2="443.54" y2="427.7" stroke="#efefef" stroke-width="0.7"/>
<line x1="462.67" y1="352.1" x2="462.67" y2="427.7" stroke="#efefef" stroke-width="0.7"/>
<line x1="481.8" y1="352.1" x2="481.8" y2="427.7" stroke="#efefef" stroke-width="0.7"/>
<line x1="500.92" y1="352.1" x2="500.92" y2="427.7" stroke="#efefef" stroke-width="0.7"/>
<line x1="317.3" y1="296.7" x2="512.4" y2="296.7" stroke="#c2c2c2" stroke-width="0.9"/>
<rect x="324.23" y="296.7" width="9.09" height="1.18" fill="#d3555a"/>
<rect x="343.36" y="292" width="9.09" height="4.7" fill="#d3555a"/>
<rect x="362.49" y="282.6" width="9.09" height="14.1" fill="#d3555a"/>
<rect x="400.74" y="254.59" width="9.09" height="42.11" fill="#d3555a"/>
<rect x="419.87" y="292" width="9.09" height="4.7" fill="#d3555a"/>
<rect x="439" y="292" width="9.09" height="4.7" fill="#d3555a"/>
<rect x="458.13" y="281.66" width="9.09" height="15.04" fill="#d3555a"/>
<rect x="477.25" y="296.7" width="9.09" height="47" fill="#d3555a"/>
<rect x="477.25" y="352.1" width="9.09" height="45.36" fill="#d3555a"/>
<rect x="496.38" y="281.66" width="9.09" height="15.04" fill="#d3555a"/>
<line x1="317.3" y1="249.7" x2="317.3" y2="343.7" stroke="#555555" stroke-width="1"/>
<line x1="315.1" y1="249.7" x2="317.3" y2="249.7" stroke="#555555" stroke-width="0.8"/>
<text font-size="10" fill="#4d4d4d" stroke="#4d4d4d" stroke-width="0.35" text-anchor="end" font-weight="normal" transform="translate(314.3 253.5) scale(0.92 1)">10</text>
<line x1="315.1" y1="273.2" x2="317.3" y2="273.2" stroke="#555555" stroke-width="0.8"/>
<text font-size="10" fill="#4d4d4d" stroke="#4d4d4d" stroke-width="0.35" text-anchor="end" font-weight="normal" transform="translate(314.3 277) scale(0.92 1)">5</text>
<line x1="315.1" y1="296.7" x2="317.3" y2="296.7" stroke="#555555" stroke-width="0.8"/>
<text font-size="10" fill="#4d4d4d" stroke="#4d4d4d" stroke-width="0.35" text-anchor="end" font-weight="normal" transform="translate(314.3 300.5) scale(0.92 1)">0</text>
<line x1="315.1" y1="320.2" x2="317.3" y2="320.2" stroke="#555555" stroke-width="0.8"/>
<text font-size="10" fill="#4d4d4d" stroke="#4d4d4d" stroke-width="0.35" text-anchor="end" font-weight="normal" transform="translate(314.3 324) scale(0.92 1)">-5</text>
<line x1="315.1" y1="343.7" x2="317.3" y2="343.7" stroke="#555555" stroke-width="0.8"/>
<text font-size="10" fill="#4d4d4d" stroke="#4d4d4d" stroke-width="0.35" text-anchor="end" font-weight="normal" transform="translate(314.3 347.5) scale(0.92 1)">-10</text>
<line x1="317.3" y1="352.1" x2="317.3" y2="427.7" stroke="#555555" stroke-width="1"/>
<line x1="315.1" y1="352.1" x2="317.3" y2="352.1" stroke="#555555" stroke-width="0.8"/>
<text font-size="10" fill="#4d4d4d" stroke="#4d4d4d" stroke-width="0.35" text-anchor="end" font-weight="normal" transform="translate(314.3 355.9) scale(0.92 1)">-20</text>
<line x1="315.1" y1="389.9" x2="317.3" y2="389.9" stroke="#555555" stroke-width="0.8"/>
<text font-size="10" fill="#4d4d4d" stroke="#4d4d4d" stroke-width="0.35" text-anchor="end" font-weight="normal" transform="translate(314.3 393.7) scale(0.92 1)">-30</text>
<line x1="315.1" y1="427.7" x2="317.3" y2="427.7" stroke="#555555" stroke-width="0.8"/>
<text font-size="10" fill="#4d4d4d" stroke="#4d4d4d" stroke-width="0.35" text-anchor="end" font-weight="normal" transform="translate(314.3 431.5) scale(0.92 1)">-40</text>
<line x1="317.3" y1="427.7" x2="512.4" y2="427.7" stroke="#555555" stroke-width="1"/>
<line x1="328.78" y1="427.7" x2="328.78" y2="430.2" stroke="#9a9a9a" stroke-width="0.8"/>
<line x1="347.9" y1="427.7" x2="347.9" y2="430.2" stroke="#9a9a9a" stroke-width="0.8"/>
<line x1="367.03" y1="427.7" x2="367.03" y2="430.2" stroke="#9a9a9a" stroke-width="0.8"/>
<line x1="386.16" y1="427.7" x2="386.16" y2="430.2" stroke="#9a9a9a" stroke-width="0.8"/>
<line x1="405.29" y1="427.7" x2="405.29" y2="430.2" stroke="#9a9a9a" stroke-width="0.8"/>
<line x1="424.41" y1="427.7" x2="424.41" y2="430.2" stroke="#9a9a9a" stroke-width="0.8"/>
<line x1="443.54" y1="427.7" x2="443.54" y2="430.2" stroke="#9a9a9a" stroke-width="0.8"/>
<line x1="462.67" y1="427.7" x2="462.67" y2="430.2" stroke="#9a9a9a" stroke-width="0.8"/>
<line x1="481.8" y1="427.7" x2="481.8" y2="430.2" stroke="#9a9a9a" stroke-width="0.8"/>
<line x1="500.92" y1="427.7" x2="500.92" y2="430.2" stroke="#9a9a9a" stroke-width="0.8"/>
<path d="M366.83 273.7L366.83 281.5M363.45 275.65L370.21 279.55M363.45 279.55L370.21 275.65" stroke="#111" stroke-width="1.35" stroke-linecap="butt"/>
<path d="M405.09 244.6L405.09 252.4M401.71 246.55L408.46 250.45M401.71 250.45L408.46 246.55" stroke="#111" stroke-width="1.35" stroke-linecap="butt"/>
<line x1="318.5" y1="456.09" x2="512.1" y2="456.09" stroke="#f5f5f5" stroke-width="0.6"/>
<line x1="318.5" y1="475.27" x2="512.1" y2="475.27" stroke="#f5f5f5" stroke-width="0.6"/>
<line x1="318.5" y1="494.45" x2="512.1" y2="494.45" stroke="#f5f5f5" stroke-width="0.6"/>
<line x1="318.5" y1="513.63" x2="512.1" y2="513.63" stroke="#f5f5f5" stroke-width="0.6"/>
<line x1="318.5" y1="532.81" x2="512.1" y2="532.81" stroke="#f5f5f5" stroke-width="0.6"/>
<line x1="318.5" y1="446.5" x2="512.1" y2="446.5" stroke="#ececec" stroke-width="0.8"/>
<line x1="318.5" y1="465.68" x2="512.1" y2="465.68" stroke="#ececec" stroke-width="0.8"/>
<line x1="318.5" y1="484.86" x2="512.1" y2="484.86" stroke="#ececec" stroke-width="0.8"/>
<line x1="318.5" y1="504.04" x2="512.1" y2="504.04" stroke="#ececec" stroke-width="0.8"/>
<line x1="318.5" y1="523.22" x2="512.1" y2="523.22" stroke="#ececec" stroke-width="0.8"/>
<line x1="318.5" y1="542.4" x2="512.1" y2="542.4" stroke="#ececec" stroke-width="0.8"/>
<line x1="318.5" y1="559.86" x2="512.1" y2="559.86" stroke="#f5f5f5" stroke-width="0.6"/>
<line x1="318.5" y1="579.19" x2="512.1" y2="579.19" stroke="#f5f5f5" stroke-width="0.6"/>
<line x1="318.5" y1="598.51" x2="512.1" y2="598.51" stroke="#f5f5f5" stroke-width="0.6"/>
<line x1="318.5" y1="617.84" x2="512.1" y2="617.84" stroke="#f5f5f5" stroke-width="0.6"/>
<line x1="318.5" y1="550.2" x2="512.1" y2="550.2" stroke="#ececec" stroke-width="0.8"/>
<line x1="318.5" y1="569.53" x2="512.1" y2="569.53" stroke="#ececec" stroke-width="0.8"/>
<line x1="318.5" y1="588.85" x2="512.1" y2="588.85" stroke="#ececec" stroke-width="0.8"/>
<line x1="318.5" y1="608.17" x2="512.1" y2="608.17" stroke="#ececec" stroke-width="0.8"/>
<line x1="318.5" y1="627.5" x2="512.1" y2="627.5" stroke="#ececec" stroke-width="0.8"/>
<line x1="329.89" y1="446.5" x2="329.89" y2="542.4" stroke="#efefef" stroke-width="0.7"/>
<line x1="348.87" y1="446.5" x2="348.87" y2="542.4" stroke="#efefef" stroke-width="0.7"/>
<line x1="367.85" y1="446.5" x2="367.85" y2="542.4" stroke="#efefef" stroke-width="0.7"/>
<line x1="386.83" y1="446.5" x2="386.83" y2="542.4" stroke="#efefef" stroke-width="0.7"/>
<line x1="405.81" y1="446.5" x2="405.81" y2="542.4" stroke="#efefef" stroke-width="0.7"/>
<line x1="424.79" y1="446.5" x2="424.79" y2="542.4" stroke="#efefef" stroke-width="0.7"/>
<line x1="443.77" y1="446.5" x2="443.77" y2="542.4" stroke="#efefef" stroke-width="0.7"/>
<line x1="462.75" y1="446.5" x2="462.75" y2="542.4" stroke="#efefef" stroke-width="0.7"/>
<line x1="481.73" y1="446.5" x2="481.73" y2="542.4" stroke="#efefef" stroke-width="0.7"/>
<line x1="500.71" y1="446.5" x2="500.71" y2="542.4" stroke="#efefef" stroke-width="0.7"/>
<line x1="329.89" y1="550.2" x2="329.89" y2="627.5" stroke="#efefef" stroke-width="0.7"/>
<line x1="348.87" y1="550.2" x2="348.87" y2="627.5" stroke="#efefef" stroke-width="0.7"/>
<line x1="367.85" y1="550.2" x2="367.85" y2="627.5" stroke="#efefef" stroke-width="0.7"/>
<line x1="386.83" y1="550.2" x2="386.83" y2="627.5" stroke="#efefef" stroke-width="0.7"/>
<line x1="405.81" y1="550.2" x2="405.81" y2="627.5" stroke="#efefef" stroke-width="0.7"/>
<line x1="424.79" y1="550.2" x2="424.79" y2="627.5" stroke="#efefef" stroke-width="0.7"/>
<line x1="443.77" y1="550.2" x2="443.77" y2="627.5" stroke="#efefef" stroke-width="0.7"/>
<line x1="462.75" y1="550.2" x2="462.75" y2="627.5" stroke="#efefef" stroke-width="0.7"/>
<line x1="481.73" y1="550.2" x2="481.73" y2="627.5" stroke="#efefef" stroke-width="0.7"/>
<line x1="500.71" y1="550.2" x2="500.71" y2="627.5" stroke="#efefef" stroke-width="0.7"/>
<line x1="318.5" y1="484.86" x2="512.1" y2="484.86" stroke="#c2c2c2" stroke-width="0.9"/>
<rect x="344.36" y="484.86" width="9.02" height="7.29" fill="#d3555a"/>
<rect x="363.34" y="481.6" width="9.02" height="3.26" fill="#d3555a"/>
<rect x="401.3" y="469.13" width="9.02" height="15.73" fill="#d3555a"/>
<rect x="420.28" y="484.86" width="9.02" height="1.92" fill="#d3555a"/>
<rect x="439.26" y="481.22" width="9.02" height="3.64" fill="#d3555a"/>
<rect x="458.24" y="484.86" width="9.02" height="9.97" fill="#d3555a"/>
<rect x="477.22" y="484.86" width="9.02" height="57.54" fill="#d3555a"/>
<rect x="477.22" y="550.2" width="9.02" height="28.99" fill="#d3555a"/>
<rect x="496.2" y="477.19" width="9.02" height="7.67" fill="#d3555a"/>
<line x1="318.5" y1="446.5" x2="318.5" y2="542.4" stroke="#555555" stroke-width="1"/>
<line x1="316.3" y1="446.5" x2="318.5" y2="446.5" stroke="#555555" stroke-width="0.8"/>
<text font-size="10" fill="#4d4d4d" stroke="#4d4d4d" stroke-width="0.35" text-anchor="end" font-weight="normal" transform="translate(315.5 450.3) scale(0.92 1)">10</text>
<line x1="316.3" y1="465.68" x2="318.5" y2="465.68" stroke="#555555" stroke-width="0.8"/>
<text font-size="10" fill="#4d4d4d" stroke="#4d4d4d" stroke-width="0.35" text-anchor="end" font-weight="normal" transform="translate(315.5 469.48) scale(0.92 1)">5</text>
<line x1="316.3" y1="484.86" x2="318.5" y2="484.86" stroke="#555555" stroke-width="0.8"/>
<text font-size="10" fill="#4d4d4d" stroke="#4d4d4d" stroke-width="0.35" text-anchor="end" font-weight="normal" transform="translate(315.5 488.66) scale(0.92 1)">0</text>
<line x1="316.3" y1="504.04" x2="318.5" y2="504.04" stroke="#555555" stroke-width="0.8"/>
<text font-size="10" fill="#4d4d4d" stroke="#4d4d4d" stroke-width="0.35" text-anchor="end" font-weight="normal" transform="translate(315.5 507.84) scale(0.92 1)">-5</text>
<line x1="316.3" y1="523.22" x2="318.5" y2="523.22" stroke="#555555" stroke-width="0.8"/>
<text font-size="10" fill="#4d4d4d" stroke="#4d4d4d" stroke-width="0.35" text-anchor="end" font-weight="normal" transform="translate(315.5 527.02) scale(0.92 1)">-10</text>
<line x1="316.3" y1="542.4" x2="318.5" y2="542.4" stroke="#555555" stroke-width="0.8"/>
<text font-size="10" fill="#4d4d4d" stroke="#4d4d4d" stroke-width="0.35" text-anchor="end" font-weight="normal" transform="translate(315.5 546.2) scale(0.92 1)">-15</text>
<line x1="318.5" y1="550.2" x2="318.5" y2="627.5" stroke="#555555" stroke-width="1"/>
<line x1="316.3" y1="550.2" x2="318.5" y2="550.2" stroke="#555555" stroke-width="0.8"/>
<text font-size="10" fill="#4d4d4d" stroke="#4d4d4d" stroke-width="0.35" text-anchor="end" font-weight="normal" transform="translate(315.5 554) scale(0.92 1)">-16</text>
<line x1="316.3" y1="569.53" x2="318.5" y2="569.53" stroke="#555555" stroke-width="0.8"/>
<text font-size="10" fill="#4d4d4d" stroke="#4d4d4d" stroke-width="0.35" text-anchor="end" font-weight="normal" transform="translate(315.5 573.33) scale(0.92 1)">-17</text>
<line x1="316.3" y1="588.85" x2="318.5" y2="588.85" stroke="#555555" stroke-width="0.8"/>
<text font-size="10" fill="#4d4d4d" stroke="#4d4d4d" stroke-width="0.35" text-anchor="end" font-weight="normal" transform="translate(315.5 592.65) scale(0.92 1)">-18</text>
<line x1="316.3" y1="608.17" x2="318.5" y2="608.17" stroke="#555555" stroke-width="0.8"/>
<text font-size="10" fill="#4d4d4d" stroke="#4d4d4d" stroke-width="0.35" text-anchor="end" font-weight="normal" transform="translate(315.5 611.97) scale(0.92 1)">-19</text>
<line x1="316.3" y1="627.5" x2="318.5" y2="627.5" stroke="#555555" stroke-width="0.8"/>
<text font-size="10" fill="#4d4d4d" stroke="#4d4d4d" stroke-width="0.35" text-anchor="end" font-weight="normal" transform="translate(315.5 631.3) scale(0.92 1)">-20</text>
<line x1="318.5" y1="627.5" x2="512.1" y2="627.5" stroke="#555555" stroke-width="1"/>
<line x1="329.89" y1="627.5" x2="329.89" y2="630" stroke="#9a9a9a" stroke-width="0.8"/>
<line x1="348.87" y1="627.5" x2="348.87" y2="630" stroke="#9a9a9a" stroke-width="0.8"/>
<line x1="367.85" y1="627.5" x2="367.85" y2="630" stroke="#9a9a9a" stroke-width="0.8"/>
<line x1="386.83" y1="627.5" x2="386.83" y2="630" stroke="#9a9a9a" stroke-width="0.8"/>
<line x1="405.81" y1="627.5" x2="405.81" y2="630" stroke="#9a9a9a" stroke-width="0.8"/>
<line x1="424.79" y1="627.5" x2="424.79" y2="630" stroke="#9a9a9a" stroke-width="0.8"/>
<line x1="443.77" y1="627.5" x2="443.77" y2="630" stroke="#9a9a9a" stroke-width="0.8"/>
<line x1="462.75" y1="627.5" x2="462.75" y2="630" stroke="#9a9a9a" stroke-width="0.8"/>
<line x1="481.73" y1="627.5" x2="481.73" y2="630" stroke="#9a9a9a" stroke-width="0.8"/>
<line x1="500.71" y1="627.5" x2="500.71" y2="630" stroke="#9a9a9a" stroke-width="0.8"/>
<line x1="547.2" y1="60.61" x2="734" y2="60.61" stroke="#f5f5f5" stroke-width="0.6"/>
<line x1="547.2" y1="91.33" x2="734" y2="91.33" stroke="#f5f5f5" stroke-width="0.6"/>
<line x1="547.2" y1="122.04" x2="734" y2="122.04" stroke="#f5f5f5" stroke-width="0.6"/>
<line x1="547.2" y1="45.25" x2="734" y2="45.25" stroke="#ececec" stroke-width="0.8"/>
<line x1="547.2" y1="75.97" x2="734" y2="75.97" stroke="#ececec" stroke-width="0.8"/>
<line x1="547.2" y1="106.68" x2="734" y2="106.68" stroke="#ececec" stroke-width="0.8"/>
<line x1="547.2" y1="137.4" x2="734" y2="137.4" stroke="#ececec" stroke-width="0.8"/>
<line x1="547.2" y1="158.37" x2="734" y2="158.37" stroke="#f5f5f5" stroke-width="0.6"/>
<line x1="547.2" y1="183.1" x2="734" y2="183.1" stroke="#f5f5f5" stroke-width="0.6"/>
<line x1="547.2" y1="207.83" x2="734" y2="207.83" stroke="#f5f5f5" stroke-width="0.6"/>
<line x1="547.2" y1="146" x2="734" y2="146" stroke="#ececec" stroke-width="0.8"/>
<line x1="547.2" y1="170.73" x2="734" y2="170.73" stroke="#ececec" stroke-width="0.8"/>
<line x1="547.2" y1="195.47" x2="734" y2="195.47" stroke="#ececec" stroke-width="0.8"/>
<line x1="547.2" y1="220.2" x2="734" y2="220.2" stroke="#ececec" stroke-width="0.8"/>
<line x1="558.19" y1="45.25" x2="558.19" y2="137.4" stroke="#efefef" stroke-width="0.7"/>
<line x1="576.5" y1="45.25" x2="576.5" y2="137.4" stroke="#efefef" stroke-width="0.7"/>
<line x1="594.82" y1="45.25" x2="594.82" y2="137.4" stroke="#efefef" stroke-width="0.7"/>
<line x1="613.13" y1="45.25" x2="613.13" y2="137.4" stroke="#efefef" stroke-width="0.7"/>
<line x1="631.44" y1="45.25" x2="631.44" y2="137.4" stroke="#efefef" stroke-width="0.7"/>
<line x1="649.76" y1="45.25" x2="649.76" y2="137.4" stroke="#efefef" stroke-width="0.7"/>
<line x1="668.07" y1="45.25" x2="668.07" y2="137.4" stroke="#efefef" stroke-width="0.7"/>
<line x1="686.38" y1="45.25" x2="686.38" y2="137.4" stroke="#efefef" stroke-width="0.7"/>
<line x1="704.7" y1="45.25" x2="704.7" y2="137.4" stroke="#efefef" stroke-width="0.7"/>
<line x1="723.01" y1="45.25" x2="723.01" y2="137.4" stroke="#efefef" stroke-width="0.7"/>
<line x1="558.19" y1="146" x2="558.19" y2="220.2" stroke="#efefef" stroke-width="0.7"/>
<line x1="576.5" y1="146" x2="576.5" y2="220.2" stroke="#efefef" stroke-width="0.7"/>
<line x1="594.82" y1="146" x2="594.82" y2="220.2" stroke="#efefef" stroke-width="0.7"/>
<line x1="613.13" y1="146" x2="613.13" y2="220.2" stroke="#efefef" stroke-width="0.7"/>
<line x1="631.44" y1="146" x2="631.44" y2="220.2" stroke="#efefef" stroke-width="0.7"/>
<line x1="649.76" y1="146" x2="649.76" y2="220.2" stroke="#efefef" stroke-width="0.7"/>
<line x1="668.07" y1="146" x2="668.07" y2="220.2" stroke="#efefef" stroke-width="0.7"/>
<line x1="686.38" y1="146" x2="686.38" y2="220.2" stroke="#efefef" stroke-width="0.7"/>
<line x1="704.7" y1="146" x2="704.7" y2="220.2" stroke="#efefef" stroke-width="0.7"/>
<line x1="723.01" y1="146" x2="723.01" y2="220.2" stroke="#efefef" stroke-width="0.7"/>
<line x1="547.2" y1="75.97" x2="734" y2="75.97" stroke="#c2c2c2" stroke-width="0.9"/>
<rect x="553.84" y="75.97" width="8.7" height="2.15" fill="#838a85"/>
<rect x="572.15" y="75.97" width="8.7" height="6.57" fill="#838a85"/>
<rect x="590.47" y="64.11" width="8.7" height="11.86" fill="#838a85"/>
<rect x="608.78" y="75.97" width="8.7" height="0.92" fill="#838a85"/>
<rect x="627.09" y="75.97" width="8.7" height="6.14" fill="#838a85"/>
<rect x="645.41" y="75.97" width="8.7" height="12.72" fill="#838a85"/>
<rect x="663.72" y="75.97" width="8.7" height="33.17" fill="#838a85"/>
<rect x="682.03" y="75.97" width="8.7" height="0.61" fill="#838a85"/>
<rect x="700.35" y="75.97" width="8.7" height="61.43" fill="#838a85"/>
<rect x="700.35" y="146" width="8.7" height="50.95" fill="#838a85"/>
<rect x="718.66" y="75.97" width="8.7" height="32.56" fill="#838a85"/>
<line x1="547.2" y1="45.25" x2="547.2" y2="137.4" stroke="#555555" stroke-width="1"/>
<line x1="545" y1="45.25" x2="547.2" y2="45.25" stroke="#555555" stroke-width="0.8"/>
<text font-size="10" fill="#4d4d4d" stroke="#4d4d4d" stroke-width="0.35" text-anchor="end" font-weight="normal" transform="translate(544.2 49.05) scale(0.92 1)">5</text>
<line x1="545" y1="75.97" x2="547.2" y2="75.97" stroke="#555555" stroke-width="0.8"/>
<text font-size="10" fill="#4d4d4d" stroke="#4d4d4d" stroke-width="0.35" text-anchor="end" font-weight="normal" transform="translate(544.2 79.77) scale(0.92 1)">0</text>
<line x1="545" y1="106.68" x2="547.2" y2="106.68" stroke="#555555" stroke-width="0.8"/>
<text font-size="10" fill="#4d4d4d" stroke="#4d4d4d" stroke-width="0.35" text-anchor="end" font-weight="normal" transform="translate(544.2 110.48) scale(0.92 1)">-5</text>
<line x1="545" y1="137.4" x2="547.2" y2="137.4" stroke="#555555" stroke-width="0.8"/>
<text font-size="10" fill="#4d4d4d" stroke="#4d4d4d" stroke-width="0.35" text-anchor="end" font-weight="normal" transform="translate(544.2 141.2) scale(0.92 1)">-10</text>
<line x1="547.2" y1="146" x2="547.2" y2="220.2" stroke="#555555" stroke-width="1"/>
<line x1="545" y1="146" x2="547.2" y2="146" stroke="#555555" stroke-width="0.8"/>
<text font-size="10" fill="#4d4d4d" stroke="#4d4d4d" stroke-width="0.35" text-anchor="end" font-weight="normal" transform="translate(544.2 149.8) scale(0.92 1)">-100</text>
<line x1="545" y1="170.73" x2="547.2" y2="170.73" stroke="#555555" stroke-width="0.8"/>
<text font-size="10" fill="#4d4d4d" stroke="#4d4d4d" stroke-width="0.35" text-anchor="end" font-weight="normal" transform="translate(544.2 174.53) scale(0.92 1)">-200</text>
<line x1="545" y1="195.47" x2="547.2" y2="195.47" stroke="#555555" stroke-width="0.8"/>
<text font-size="10" fill="#4d4d4d" stroke="#4d4d4d" stroke-width="0.35" text-anchor="end" font-weight="normal" transform="translate(544.2 199.27) scale(0.92 1)">-300</text>
<line x1="545" y1="220.2" x2="547.2" y2="220.2" stroke="#555555" stroke-width="0.8"/>
<text font-size="10" fill="#4d4d4d" stroke="#4d4d4d" stroke-width="0.35" text-anchor="end" font-weight="normal" transform="translate(544.2 224) scale(0.92 1)">-400</text>
<line x1="547.2" y1="220.2" x2="734" y2="220.2" stroke="#555555" stroke-width="1"/>
<line x1="558.19" y1="220.2" x2="558.19" y2="222.7" stroke="#9a9a9a" stroke-width="0.8"/>
<line x1="576.5" y1="220.2" x2="576.5" y2="222.7" stroke="#9a9a9a" stroke-width="0.8"/>
<line x1="594.82" y1="220.2" x2="594.82" y2="222.7" stroke="#9a9a9a" stroke-width="0.8"/>
<line x1="613.13" y1="220.2" x2="613.13" y2="222.7" stroke="#9a9a9a" stroke-width="0.8"/>
<line x1="631.44" y1="220.2" x2="631.44" y2="222.7" stroke="#9a9a9a" stroke-width="0.8"/>
<line x1="649.76" y1="220.2" x2="649.76" y2="222.7" stroke="#9a9a9a" stroke-width="0.8"/>
<line x1="668.07" y1="220.2" x2="668.07" y2="222.7" stroke="#9a9a9a" stroke-width="0.8"/>
<line x1="686.38" y1="220.2" x2="686.38" y2="222.7" stroke="#9a9a9a" stroke-width="0.8"/>
<line x1="704.7" y1="220.2" x2="704.7" y2="222.7" stroke="#9a9a9a" stroke-width="0.8"/>
<line x1="723.01" y1="220.2" x2="723.01" y2="222.7" stroke="#9a9a9a" stroke-width="0.8"/>
<line x1="545.7" y1="258.75" x2="734.3" y2="258.75" stroke="#f5f5f5" stroke-width="0.6"/>
<line x1="545.7" y1="291.05" x2="734.3" y2="291.05" stroke="#f5f5f5" stroke-width="0.6"/>
<line x1="545.7" y1="323.35" x2="734.3" y2="323.35" stroke="#f5f5f5" stroke-width="0.6"/>
<line x1="545.7" y1="242.6" x2="734.3" y2="242.6" stroke="#ececec" stroke-width="0.8"/>
<line x1="545.7" y1="274.9" x2="734.3" y2="274.9" stroke="#ececec" stroke-width="0.8"/>
<line x1="545.7" y1="307.2" x2="734.3" y2="307.2" stroke="#ececec" stroke-width="0.8"/>
<line x1="545.7" y1="339.5" x2="734.3" y2="339.5" stroke="#ececec" stroke-width="0.8"/>
<line x1="545.7" y1="367.45" x2="734.3" y2="367.45" stroke="#f5f5f5" stroke-width="0.6"/>
<line x1="545.7" y1="406.15" x2="734.3" y2="406.15" stroke="#f5f5f5" stroke-width="0.6"/>
<line x1="545.7" y1="348.1" x2="734.3" y2="348.1" stroke="#ececec" stroke-width="0.8"/>
<line x1="545.7" y1="386.8" x2="734.3" y2="386.8" stroke="#ececec" stroke-width="0.8"/>
<line x1="545.7" y1="425.5" x2="734.3" y2="425.5" stroke="#ececec" stroke-width="0.8"/>
<line x1="556.79" y1="242.6" x2="556.79" y2="339.5" stroke="#efefef" stroke-width="0.7"/>
<line x1="575.28" y1="242.6" x2="575.28" y2="339.5" stroke="#efefef" stroke-width="0.7"/>
<line x1="593.77" y1="242.6" x2="593.77" y2="339.5" stroke="#efefef" stroke-width="0.7"/>
<line x1="612.26" y1="242.6" x2="612.26" y2="339.5" stroke="#efefef" stroke-width="0.7"/>
<line x1="630.75" y1="242.6" x2="630.75" y2="339.5" stroke="#efefef" stroke-width="0.7"/>
<line x1="649.25" y1="242.6" x2="649.25" y2="339.5" stroke="#efefef" stroke-width="0.7"/>
<line x1="667.74" y1="242.6" x2="667.74" y2="339.5" stroke="#efefef" stroke-width="0.7"/>
<line x1="686.23" y1="242.6" x2="686.23" y2="339.5" stroke="#efefef" stroke-width="0.7"/>
<line x1="704.72" y1="242.6" x2="704.72" y2="339.5" stroke="#efefef" stroke-width="0.7"/>
<line x1="723.21" y1="242.6" x2="723.21" y2="339.5" stroke="#efefef" stroke-width="0.7"/>
<line x1="556.79" y1="348.1" x2="556.79" y2="425.5" stroke="#efefef" stroke-width="0.7"/>
<line x1="575.28" y1="348.1" x2="575.28" y2="425.5" stroke="#efefef" stroke-width="0.7"/>
<line x1="593.77" y1="348.1" x2="593.77" y2="425.5" stroke="#efefef" stroke-width="0.7"/>
<line x1="612.26" y1="348.1" x2="612.26" y2="425.5" stroke="#efefef" stroke-width="0.7"/>
<line x1="630.75" y1="348.1" x2="630.75" y2="425.5" stroke="#efefef" stroke-width="0.7"/>
<line x1="649.25" y1="348.1" x2="649.25" y2="425.5" stroke="#efefef" stroke-width="0.7"/>
<line x1="667.74" y1="348.1" x2="667.74" y2="425.5" stroke="#efefef" stroke-width="0.7"/>
<line x1="686.23" y1="348.1" x2="686.23" y2="425.5" stroke="#efefef" stroke-width="0.7"/>
<line x1="704.72" y1="348.1" x2="704.72" y2="425.5" stroke="#efefef" stroke-width="0.7"/>
<line x1="723.21" y1="348.1" x2="723.21" y2="425.5" stroke="#efefef" stroke-width="0.7"/>
<line x1="545.7" y1="274.9" x2="734.3" y2="274.9" stroke="#c2c2c2" stroke-width="0.9"/>
<rect x="552.4" y="274.9" width="8.78" height="6.46" fill="#838a85"/>
<rect x="570.89" y="274.9" width="8.78" height="11.31" fill="#838a85"/>
<rect x="589.38" y="265.21" width="8.78" height="9.69" fill="#838a85"/>
<rect x="607.87" y="274.9" width="8.78" height="0.65" fill="#838a85"/>
<rect x="626.36" y="249.06" width="8.78" height="25.84" fill="#838a85"/>
<rect x="644.85" y="274.9" width="8.78" height="32.04" fill="#838a85"/>
<rect x="663.34" y="274.9" width="8.78" height="64.6" fill="#838a85"/>
<rect x="681.83" y="264.56" width="8.78" height="10.34" fill="#838a85"/>
<rect x="700.32" y="274.9" width="8.78" height="64.6" fill="#838a85"/>
<rect x="700.32" y="348.1" width="8.78" height="65.79" fill="#838a85"/>
<rect x="718.81" y="274.9" width="8.78" height="11.18" fill="#838a85"/>
<line x1="545.7" y1="242.6" x2="545.7" y2="339.5" stroke="#555555" stroke-width="1"/>
<line x1="543.5" y1="242.6" x2="545.7" y2="242.6" stroke="#555555" stroke-width="0.8"/>
<text font-size="10" fill="#4d4d4d" stroke="#4d4d4d" stroke-width="0.35" text-anchor="end" font-weight="normal" transform="translate(542.7 246.4) scale(0.92 1)">5</text>
<line x1="543.5" y1="274.9" x2="545.7" y2="274.9" stroke="#555555" stroke-width="0.8"/>
<text font-size="10" fill="#4d4d4d" stroke="#4d4d4d" stroke-width="0.35" text-anchor="end" font-weight="normal" transform="translate(542.7 278.7) scale(0.92 1)">0</text>
<line x1="543.5" y1="307.2" x2="545.7" y2="307.2" stroke="#555555" stroke-width="0.8"/>
<text font-size="10" fill="#4d4d4d" stroke="#4d4d4d" stroke-width="0.35" text-anchor="end" font-weight="normal" transform="translate(542.7 311) scale(0.92 1)">-5</text>
<line x1="543.5" y1="339.5" x2="545.7" y2="339.5" stroke="#555555" stroke-width="0.8"/>
<text font-size="10" fill="#4d4d4d" stroke="#4d4d4d" stroke-width="0.35" text-anchor="end" font-weight="normal" transform="translate(542.7 343.3) scale(0.92 1)">-10</text>
<line x1="545.7" y1="348.1" x2="545.7" y2="425.5" stroke="#555555" stroke-width="1"/>
<line x1="543.5" y1="348.1" x2="545.7" y2="348.1" stroke="#555555" stroke-width="0.8"/>
<text font-size="10" fill="#4d4d4d" stroke="#4d4d4d" stroke-width="0.35" text-anchor="end" font-weight="normal" transform="translate(542.7 351.9) scale(0.92 1)">-200</text>
<line x1="543.5" y1="386.8" x2="545.7" y2="386.8" stroke="#555555" stroke-width="0.8"/>
<text font-size="10" fill="#4d4d4d" stroke="#4d4d4d" stroke-width="0.35" text-anchor="end" font-weight="normal" transform="translate(542.7 390.6) scale(0.92 1)">-400</text>
<line x1="543.5" y1="425.5" x2="545.7" y2="425.5" stroke="#555555" stroke-width="0.8"/>
<text font-size="10" fill="#4d4d4d" stroke="#4d4d4d" stroke-width="0.35" text-anchor="end" font-weight="normal" transform="translate(542.7 429.3) scale(0.92 1)">-600</text>
<line x1="545.7" y1="425.5" x2="734.3" y2="425.5" stroke="#555555" stroke-width="1"/>
<line x1="556.79" y1="425.5" x2="556.79" y2="428" stroke="#9a9a9a" stroke-width="0.8"/>
<line x1="575.28" y1="425.5" x2="575.28" y2="428" stroke="#9a9a9a" stroke-width="0.8"/>
<line x1="593.77" y1="425.5" x2="593.77" y2="428" stroke="#9a9a9a" stroke-width="0.8"/>
<line x1="612.26" y1="425.5" x2="612.26" y2="428" stroke="#9a9a9a" stroke-width="0.8"/>
<line x1="630.75" y1="425.5" x2="630.75" y2="428" stroke="#9a9a9a" stroke-width="0.8"/>
<line x1="649.25" y1="425.5" x2="649.25" y2="428" stroke="#9a9a9a" stroke-width="0.8"/>
<line x1="667.74" y1="425.5" x2="667.74" y2="428" stroke="#9a9a9a" stroke-width="0.8"/>
<line x1="686.23" y1="425.5" x2="686.23" y2="428" stroke="#9a9a9a" stroke-width="0.8"/>
<line x1="704.72" y1="425.5" x2="704.72" y2="428" stroke="#9a9a9a" stroke-width="0.8"/>
<line x1="723.21" y1="425.5" x2="723.21" y2="428" stroke="#9a9a9a" stroke-width="0.8"/>
<path d="M649.05 310.5L649.05 318.3M645.67 312.45L652.42 316.35M645.67 316.35L652.42 312.45" stroke="#111" stroke-width="1.35" stroke-linecap="butt"/>
<path d="M667.54 343.4L667.54 351.2M664.16 345.35L670.91 349.25M664.16 349.25L670.91 345.35" stroke="#111" stroke-width="1.35" stroke-linecap="butt"/>
<path d="M686.03 253.8L686.03 261.6M682.65 255.75L689.4 259.65M682.65 259.65L689.4 255.75" stroke="#111" stroke-width="1.35" stroke-linecap="butt"/>
<path d="M704.52 416.7L704.52 424.5M701.14 418.65L707.89 422.55M701.14 422.55L707.89 418.65" stroke="#111" stroke-width="1.35" stroke-linecap="butt"/>
<line x1="545.4" y1="462.77" x2="736.7" y2="462.77" stroke="#f5f5f5" stroke-width="0.6"/>
<line x1="545.4" y1="494.5" x2="736.7" y2="494.5" stroke="#f5f5f5" stroke-width="0.6"/>
<line x1="545.4" y1="526.23" x2="736.7" y2="526.23" stroke="#f5f5f5" stroke-width="0.6"/>
<line x1="545.4" y1="446.9" x2="736.7" y2="446.9" stroke="#ececec" stroke-width="0.8"/>
<line x1="545.4" y1="478.63" x2="736.7" y2="478.63" stroke="#ececec" stroke-width="0.8"/>
<line x1="545.4" y1="510.37" x2="736.7" y2="510.37" stroke="#ececec" stroke-width="0.8"/>
<line x1="545.4" y1="542.1" x2="736.7" y2="542.1" stroke="#ececec" stroke-width="0.8"/>
<line x1="545.4" y1="569.35" x2="736.7" y2="569.35" stroke="#f5f5f5" stroke-width="0.6"/>
<line x1="545.4" y1="607.65" x2="736.7" y2="607.65" stroke="#f5f5f5" stroke-width="0.6"/>
<line x1="545.4" y1="550.2" x2="736.7" y2="550.2" stroke="#ececec" stroke-width="0.8"/>
<line x1="545.4" y1="588.5" x2="736.7" y2="588.5" stroke="#ececec" stroke-width="0.8"/>
<line x1="545.4" y1="626.8" x2="736.7" y2="626.8" stroke="#ececec" stroke-width="0.8"/>
<line x1="556.65" y1="446.9" x2="556.65" y2="542.1" stroke="#efefef" stroke-width="0.7"/>
<line x1="575.41" y1="446.9" x2="575.41" y2="542.1" stroke="#efefef" stroke-width="0.7"/>
<line x1="594.16" y1="446.9" x2="594.16" y2="542.1" stroke="#efefef" stroke-width="0.7"/>
<line x1="612.92" y1="446.9" x2="612.92" y2="542.1" stroke="#efefef" stroke-width="0.7"/>
<line x1="631.67" y1="446.9" x2="631.67" y2="542.1" stroke="#efefef" stroke-width="0.7"/>
<line x1="650.43" y1="446.9" x2="650.43" y2="542.1" stroke="#efefef" stroke-width="0.7"/>
<line x1="669.18" y1="446.9" x2="669.18" y2="542.1" stroke="#efefef" stroke-width="0.7"/>
<line x1="687.94" y1="446.9" x2="687.94" y2="542.1" stroke="#efefef" stroke-width="0.7"/>
<line x1="706.69" y1="446.9" x2="706.69" y2="542.1" stroke="#efefef" stroke-width="0.7"/>
<line x1="725.45" y1="446.9" x2="725.45" y2="542.1" stroke="#efefef" stroke-width="0.7"/>
<line x1="556.65" y1="550.2" x2="556.65" y2="626.8" stroke="#efefef" stroke-width="0.7"/>
<line x1="575.41" y1="550.2" x2="575.41" y2="626.8" stroke="#efefef" stroke-width="0.7"/>
<line x1="594.16" y1="550.2" x2="594.16" y2="626.8" stroke="#efefef" stroke-width="0.7"/>
<line x1="612.92" y1="550.2" x2="612.92" y2="626.8" stroke="#efefef" stroke-width="0.7"/>
<line x1="631.67" y1="550.2" x2="631.67" y2="626.8" stroke="#efefef" stroke-width="0.7"/>
<line x1="650.43" y1="550.2" x2="650.43" y2="626.8" stroke="#efefef" stroke-width="0.7"/>
<line x1="669.18" y1="550.2" x2="669.18" y2="626.8" stroke="#efefef" stroke-width="0.7"/>
<line x1="687.94" y1="550.2" x2="687.94" y2="626.8" stroke="#efefef" stroke-width="0.7"/>
<line x1="706.69" y1="550.2" x2="706.69" y2="626.8" stroke="#efefef" stroke-width="0.7"/>
<line x1="725.45" y1="550.2" x2="725.45" y2="626.8" stroke="#efefef" stroke-width="0.7"/>
<line x1="545.4" y1="478.63" x2="736.7" y2="478.63" stroke="#c2c2c2" stroke-width="0.9"/>
<rect x="552.2" y="478.63" width="8.91" height="13.33" fill="#838a85"/>
<rect x="570.95" y="478.63" width="8.91" height="44.43" fill="#838a85"/>
<rect x="589.71" y="478.63" width="8.91" height="10.47" fill="#838a85"/>
<rect x="608.46" y="478.63" width="8.91" height="0.32" fill="#838a85"/>
<rect x="627.22" y="478.63" width="8.91" height="6.35" fill="#838a85"/>
<rect x="645.97" y="478.63" width="8.91" height="15.23" fill="#838a85"/>
<rect x="664.73" y="478.63" width="8.91" height="27.93" fill="#838a85"/>
<rect x="683.48" y="478.63" width="8.91" height="2.22" fill="#838a85"/>
<rect x="702.24" y="478.63" width="8.91" height="63.47" fill="#838a85"/>
<rect x="702.24" y="550.2" width="8.91" height="41.36" fill="#838a85"/>
<rect x="720.99" y="478.63" width="8.91" height="54.58" fill="#838a85"/>
<line x1="545.4" y1="446.9" x2="545.4" y2="542.1" stroke="#555555" stroke-width="1"/>
<line x1="543.2" y1="446.9" x2="545.4" y2="446.9" stroke="#555555" stroke-width="0.8"/>
<text font-size="10" fill="#4d4d4d" stroke="#4d4d4d" stroke-width="0.35" text-anchor="end" font-weight="normal" transform="translate(542.4 450.7) scale(0.92 1)">5</text>
<line x1="543.2" y1="478.63" x2="545.4" y2="478.63" stroke="#555555" stroke-width="0.8"/>
<text font-size="10" fill="#4d4d4d" stroke="#4d4d4d" stroke-width="0.35" text-anchor="end" font-weight="normal" transform="translate(542.4 482.43) scale(0.92 1)">0</text>
<line x1="543.2" y1="510.37" x2="545.4" y2="510.37" stroke="#555555" stroke-width="0.8"/>
<text font-size="10" fill="#4d4d4d" stroke="#4d4d4d" stroke-width="0.35" text-anchor="end" font-weight="normal" transform="translate(542.4 514.17) scale(0.92 1)">-5</text>
<line x1="543.2" y1="542.1" x2="545.4" y2="542.1" stroke="#555555" stroke-width="0.8"/>
<text font-size="10" fill="#4d4d4d" stroke="#4d4d4d" stroke-width="0.35" text-anchor="end" font-weight="normal" transform="translate(542.4 545.9) scale(0.92 1)">-10</text>
<line x1="545.4" y1="550.2" x2="545.4" y2="626.8" stroke="#555555" stroke-width="1"/>
<line x1="543.2" y1="550.2" x2="545.4" y2="550.2" stroke="#555555" stroke-width="0.8"/>
<text font-size="10" fill="#4d4d4d" stroke="#4d4d4d" stroke-width="0.35" text-anchor="end" font-weight="normal" transform="translate(542.4 554) scale(0.92 1)">-200</text>
<line x1="543.2" y1="588.5" x2="545.4" y2="588.5" stroke="#555555" stroke-width="0.8"/>
<text font-size="10" fill="#4d4d4d" stroke="#4d4d4d" stroke-width="0.35" text-anchor="end" font-weight="normal" transform="translate(542.4 592.3) scale(0.92 1)">-250</text>
<line x1="543.2" y1="626.8" x2="545.4" y2="626.8" stroke="#555555" stroke-width="0.8"/>
<text font-size="10" fill="#4d4d4d" stroke="#4d4d4d" stroke-width="0.35" text-anchor="end" font-weight="normal" transform="translate(542.4 630.6) scale(0.92 1)">-300</text>
<line x1="545.4" y1="626.8" x2="736.7" y2="626.8" stroke="#555555" stroke-width="1"/>
<line x1="556.65" y1="626.8" x2="556.65" y2="629.3" stroke="#9a9a9a" stroke-width="0.8"/>
<line x1="575.41" y1="626.8" x2="575.41" y2="629.3" stroke="#9a9a9a" stroke-width="0.8"/>
<line x1="594.16" y1="626.8" x2="594.16" y2="629.3" stroke="#9a9a9a" stroke-width="0.8"/>
<line x1="612.92" y1="626.8" x2="612.92" y2="629.3" stroke="#9a9a9a" stroke-width="0.8"/>
<line x1="631.67" y1="626.8" x2="631.67" y2="629.3" stroke="#9a9a9a" stroke-width="0.8"/>
<line x1="650.43" y1="626.8" x2="650.43" y2="629.3" stroke="#9a9a9a" stroke-width="0.8"/>
<line x1="669.18" y1="626.8" x2="669.18" y2="629.3" stroke="#9a9a9a" stroke-width="0.8"/>
<line x1="687.94" y1="626.8" x2="687.94" y2="629.3" stroke="#9a9a9a" stroke-width="0.8"/>
<line x1="706.69" y1="626.8" x2="706.69" y2="629.3" stroke="#9a9a9a" stroke-width="0.8"/>
<line x1="725.45" y1="626.8" x2="725.45" y2="629.3" stroke="#9a9a9a" stroke-width="0.8"/>
<path d="M556.45 497.9L556.45 505.7M553.08 499.85L559.83 503.75M553.08 503.75L559.83 499.85" stroke="#111" stroke-width="1.35" stroke-linecap="butt"/>
<path d="M575.21 528.1L575.21 535.9M571.83 530.05L578.59 533.95M571.83 533.95L578.59 530.05" stroke="#111" stroke-width="1.35" stroke-linecap="butt"/>
<path d="M593.96 493.8L593.96 501.6M590.59 495.75L597.34 499.65M590.59 499.65L597.34 495.75" stroke="#111" stroke-width="1.35" stroke-linecap="butt"/>
<path d="M706.49 595.2L706.49 603M703.11 597.15L709.87 601.05M703.11 601.05L709.87 597.15" stroke="#111" stroke-width="1.35" stroke-linecap="butt"/>
<rect x="132.1" y="1.5" width="121.1" height="23.4" fill="#52b1e6"/><text x="192.65" y="17.8" font-size="12" fill="#fff" text-anchor="middle" font-weight="bold" >Broth - Untreated</text>
<rect x="362" y="1.5" width="103" height="23.4" fill="#d3555a"/><text x="413.5" y="17.8" font-size="12" fill="#fff" text-anchor="middle" font-weight="bold" >Own - Broth</text>
<rect x="594.4" y="1.5" width="102.6" height="23.4" fill="#838a85"/><text x="645.7" y="17.8" font-size="12" fill="#fff" text-anchor="middle" font-weight="bold" >Other - Broth</text>
<text x="41" y="16.9" font-size="14" fill="#000" text-anchor="start" font-weight="bold" >A</text>
<text x="302.9" y="16.9" font-size="14" fill="#000" text-anchor="start" font-weight="bold" >C</text>
<text x="524.75" y="17.2" font-size="14" fill="#000" text-anchor="start" font-weight="bold" >E</text>
<text x="44" y="642.9" font-size="14" fill="#000" text-anchor="start" font-weight="bold" >B</text>
<text x="292.75" y="643.9" font-size="14" fill="#000" text-anchor="start" font-weight="bold" >D</text>
<text x="523.2" y="643.7" font-size="14" fill="#000" text-anchor="start" font-weight="bold" >F</text>
<text x="0" y="0" font-size="12" font-weight="bold" fill="#000" text-anchor="middle" transform="translate(755.8 108.3) rotate(-90)">Chakhao</text>
<text x="0" y="0" font-size="12" font-weight="bold" fill="#000" text-anchor="middle" transform="translate(755.8 327.5) rotate(-90)">Phouren-mubi</text>
<text x="0" y="0" font-size="12" font-weight="bold" fill="#000" text-anchor="middle" transform="translate(755.8 539.6) rotate(-90)">Phou-ngang</text>
<text x="0" y="0" font-size="12" fill="#222" text-anchor="middle" transform="translate(64 326.2) rotate(-90)">Difference in median</text>
<line x1="103.8" y1="640" x2="103.8" y2="691.8" stroke="#bdbdbd" stroke-width="0.7"/>
<line x1="122.96" y1="640" x2="122.96" y2="691.8" stroke="#bdbdbd" stroke-width="0.7"/>
<line x1="142.12" y1="640" x2="142.12" y2="691.8" stroke="#bdbdbd" stroke-width="0.7"/>
<line x1="161.28" y1="640" x2="161.28" y2="691.8" stroke="#bdbdbd" stroke-width="0.7"/>
<line x1="180.44" y1="640" x2="180.44" y2="691.8" stroke="#bdbdbd" stroke-width="0.7"/>
<line x1="199.6" y1="640" x2="199.6" y2="691.8" stroke="#bdbdbd" stroke-width="0.7"/>
<line x1="218.76" y1="640" x2="218.76" y2="691.8" stroke="#bdbdbd" stroke-width="0.7"/>
<line x1="237.92" y1="640" x2="237.92" y2="691.8" stroke="#bdbdbd" stroke-width="0.7"/>
<line x1="257.08" y1="640" x2="257.08" y2="691.8" stroke="#bdbdbd" stroke-width="0.7"/>
<line x1="276.24" y1="640" x2="276.24" y2="691.8" stroke="#bdbdbd" stroke-width="0.7"/>
<rect x="89.5" y="645.7" width="199.9" height="46.1" fill="none" stroke="#707070" stroke-width="1.5"/>
<rect x="96" y="649.45" width="15.6" height="14.5" fill="#bdbdbd"/>
<text font-size="11.5" fill="#000" text-anchor="middle" font-weight="bold" transform="translate(103.8 660.8) scale(0.9 1)">2</text>
<rect x="115.16" y="649.45" width="15.6" height="14.5" fill="#bdbdbd"/>
<text font-size="11.5" fill="#000" text-anchor="middle" font-weight="bold" transform="translate(122.96 660.8) scale(0.9 1)">2</text>
<rect x="134.32" y="649.45" width="15.6" height="14.5" fill="#bdbdbd"/>
<text font-size="11.5" fill="#000" text-anchor="middle" font-weight="bold" transform="translate(142.12 660.8) scale(0.9 1)">1</text>
<rect x="153.48" y="649.45" width="15.6" height="14.5" fill="#bdbdbd"/>
<text font-size="11.5" fill="#000" text-anchor="middle" font-weight="bold" transform="translate(161.28 660.8) scale(0.9 1)">1</text>
<rect x="191.8" y="649.45" width="15.6" height="14.5" fill="#bdbdbd"/>
<text font-size="11.5" fill="#000" text-anchor="middle" font-weight="bold" transform="translate(199.6 660.8) scale(0.9 1)">1</text>
<rect x="134.32" y="673.75" width="15.6" height="14.5" fill="#bdbdbd"/>
<text font-size="11.5" fill="#000" text-anchor="middle" font-weight="bold" transform="translate(142.12 685.1) scale(0.9 1)">1</text>
<rect x="191.8" y="673.75" width="15.6" height="14.5" fill="#bdbdbd"/>
<text font-size="11.5" fill="#000" text-anchor="middle" font-weight="bold" transform="translate(199.6 685.1) scale(0.9 1)">1</text>
<rect x="210.96" y="673.75" width="15.6" height="14.5" fill="#bdbdbd"/>
<text font-size="11.5" fill="#000" text-anchor="middle" font-weight="bold" transform="translate(218.76 685.1) scale(0.9 1)">2</text>
<rect x="230.12" y="673.75" width="15.6" height="14.5" fill="#bdbdbd"/>
<text font-size="11.5" fill="#000" text-anchor="middle" font-weight="bold" transform="translate(237.92 685.1) scale(0.9 1)">1</text>
<rect x="249.28" y="673.75" width="15.6" height="14.5" fill="#bdbdbd"/>
<text font-size="11.5" fill="#000" text-anchor="middle" font-weight="bold" transform="translate(257.08 685.1) scale(0.9 1)">2</text>
<rect x="268.44" y="673.75" width="15.6" height="14.5" fill="#bdbdbd"/>
<text font-size="11.5" fill="#000" text-anchor="middle" font-weight="bold" transform="translate(276.24 685.1) scale(0.9 1)">2</text>
<line x1="330.3" y1="640" x2="330.3" y2="691.8" stroke="#bdbdbd" stroke-width="0.7"/>
<line x1="349.27" y1="640" x2="349.27" y2="691.8" stroke="#bdbdbd" stroke-width="0.7"/>
<line x1="368.24" y1="640" x2="368.24" y2="691.8" stroke="#bdbdbd" stroke-width="0.7"/>
<line x1="387.21" y1="640" x2="387.21" y2="691.8" stroke="#bdbdbd" stroke-width="0.7"/>
<line x1="406.18" y1="640" x2="406.18" y2="691.8" stroke="#bdbdbd" stroke-width="0.7"/>
<line x1="425.15" y1="640" x2="425.15" y2="691.8" stroke="#bdbdbd" stroke-width="0.7"/>
<line x1="444.12" y1="640" x2="444.12" y2="691.8" stroke="#bdbdbd" stroke-width="0.7"/>
<line x1="463.09" y1="640" x2="463.09" y2="691.8" stroke="#bdbdbd" stroke-width="0.7"/>
<line x1="482.06" y1="640" x2="482.06" y2="691.8" stroke="#bdbdbd" stroke-width="0.7"/>
<line x1="501.03" y1="640" x2="501.03" y2="691.8" stroke="#bdbdbd" stroke-width="0.7"/>
<rect x="317.25" y="645.7" width="196.95" height="46.1" fill="none" stroke="#707070" stroke-width="1.5"/>
<rect x="360.44" y="673.75" width="15.6" height="14.5" fill="#bdbdbd"/>
<text font-size="11.5" fill="#000" text-anchor="middle" font-weight="bold" transform="translate(368.24 685.1) scale(0.9 1)">2</text>
<rect x="379.41" y="673.75" width="15.6" height="14.5" fill="#bdbdbd"/>
<text font-size="11.5" fill="#000" text-anchor="middle" font-weight="bold" transform="translate(387.21 685.1) scale(0.9 1)">1</text>
<rect x="398.38" y="673.75" width="15.6" height="14.5" fill="#bdbdbd"/>
<text font-size="11.5" fill="#000" text-anchor="middle" font-weight="bold" transform="translate(406.18 685.1) scale(0.9 1)">1</text>
<rect x="474.26" y="673.75" width="15.6" height="14.5" fill="#bdbdbd"/>
<text font-size="11.5" fill="#000" text-anchor="middle" font-weight="bold" transform="translate(482.06 685.1) scale(0.9 1)">1</text>
<rect x="493.23" y="673.75" width="15.6" height="14.5" fill="#bdbdbd"/>
<text font-size="11.5" fill="#000" text-anchor="middle" font-weight="bold" transform="translate(501.03 685.1) scale(0.9 1)">1</text>
<line x1="556.7" y1="640" x2="556.7" y2="691.8" stroke="#bdbdbd" stroke-width="0.7"/>
<line x1="575.5" y1="640" x2="575.5" y2="691.8" stroke="#bdbdbd" stroke-width="0.7"/>
<line x1="594.3" y1="640" x2="594.3" y2="691.8" stroke="#bdbdbd" stroke-width="0.7"/>
<line x1="613.1" y1="640" x2="613.1" y2="691.8" stroke="#bdbdbd" stroke-width="0.7"/>
<line x1="631.9" y1="640" x2="631.9" y2="691.8" stroke="#bdbdbd" stroke-width="0.7"/>
<line x1="650.7" y1="640" x2="650.7" y2="691.8" stroke="#bdbdbd" stroke-width="0.7"/>
<line x1="669.5" y1="640" x2="669.5" y2="691.8" stroke="#bdbdbd" stroke-width="0.7"/>
<line x1="688.3" y1="640" x2="688.3" y2="691.8" stroke="#bdbdbd" stroke-width="0.7"/>
<line x1="707.1" y1="640" x2="707.1" y2="691.8" stroke="#bdbdbd" stroke-width="0.7"/>
<line x1="725.9" y1="640" x2="725.9" y2="691.8" stroke="#bdbdbd" stroke-width="0.7"/>
<rect x="543.6" y="645.7" width="195.9" height="46.1" fill="none" stroke="#707070" stroke-width="1.5"/>
<rect x="548.9" y="649.45" width="15.6" height="14.5" fill="#bdbdbd"/>
<text font-size="11.5" fill="#000" text-anchor="middle" font-weight="bold" transform="translate(556.7 660.8) scale(0.9 1)">1</text>
<rect x="567.7" y="649.45" width="15.6" height="14.5" fill="#bdbdbd"/>
<text font-size="11.5" fill="#000" text-anchor="middle" font-weight="bold" transform="translate(575.5 660.8) scale(0.9 1)">1</text>
<rect x="586.5" y="649.45" width="15.6" height="14.5" fill="#bdbdbd"/>
<text font-size="11.5" fill="#000" text-anchor="middle" font-weight="bold" transform="translate(594.3 660.8) scale(0.9 1)">1</text>
<rect x="642.9" y="649.45" width="15.6" height="14.5" fill="#bdbdbd"/>
<text font-size="11.5" fill="#000" text-anchor="middle" font-weight="bold" transform="translate(650.7 660.8) scale(0.9 1)">1</text>
<rect x="661.7" y="649.45" width="15.6" height="14.5" fill="#bdbdbd"/>
<text font-size="11.5" fill="#000" text-anchor="middle" font-weight="bold" transform="translate(669.5 660.8) scale(0.9 1)">1</text>
<rect x="699.3" y="649.45" width="15.6" height="14.5" fill="#bdbdbd"/>
<text font-size="11.5" fill="#000" text-anchor="middle" font-weight="bold" transform="translate(707.1 660.8) scale(0.9 1)">2</text>
<rect x="680.5" y="673.75" width="15.6" height="14.5" fill="#bdbdbd"/>
<text font-size="11.5" fill="#000" text-anchor="middle" font-weight="bold" transform="translate(688.3 685.1) scale(0.9 1)">1</text>
<text x="0" y="0" font-size="11" fill="#1a1a1a" text-anchor="end" transform="translate(104 699.3) rotate(-41.0)">Growth rate</text>
<text x="0" y="0" font-size="11" fill="#1a1a1a" text-anchor="end" transform="translate(124.46 699.3) rotate(-41.5)">Height</text>
<text x="0" y="0" font-size="11" fill="#1a1a1a" text-anchor="end" transform="translate(146.12 699.3) rotate(-42.0)">Flag leaf length</text>
<text x="0" y="0" font-size="11" fill="#1a1a1a" text-anchor="end" transform="translate(165.78 699.3) rotate(-42.0)">Flag leaf width</text>
<text x="0" y="0" font-size="11" fill="#1a1a1a" text-anchor="end" transform="translate(185.94 699.3) rotate(-42.0)">Number of tillers</text>
<text x="0" y="0" font-size="11" fill="#1a1a1a" text-anchor="end" transform="translate(206.9 699.3) rotate(-42.0)">Number of panicles</text>
<text x="0" y="0" font-size="11" fill="#1a1a1a" text-anchor="end" transform="translate(224.26 699.3) rotate(-42.0)">Yield</text>
<text x="0" y="0" font-size="11" fill="#1a1a1a" text-anchor="end" transform="translate(241.92 699.3) rotate(-42.5)">Weight per grain</text>
<text x="0" y="0" font-size="11" fill="#1a1a1a" text-anchor="end" transform="translate(261.58 699.3) rotate(-42.5)">Number of filled grains</text>
<text x="0" y="0" font-size="11" fill="#1a1a1a" text-anchor="end" transform="translate(280.74 699.3) rotate(-42.5)">Percent filled grains</text>
<text x="0" y="0" font-size="11" fill="#1a1a1a" text-anchor="end" transform="translate(334.4 699.3) rotate(-42.5)">Growth rate</text>
<text x="0" y="0" font-size="11" fill="#1a1a1a" text-anchor="end" transform="translate(350.57 699.3) rotate(-42.5)">Height</text>
<text x="0" y="0" font-size="11" fill="#1a1a1a" text-anchor="end" transform="translate(371.74 699.3) rotate(-42.5)">Flag leaf length</text>
<text x="0" y="0" font-size="11" fill="#1a1a1a" text-anchor="end" transform="translate(391.41 699.3) rotate(-42.5)">Flag leaf width</text>
<text x="0" y="0" font-size="11" fill="#1a1a1a" text-anchor="end" transform="translate(408.08 699.3) rotate(-42.5)">Number of tillers</text>
<text x="0" y="0" font-size="11" fill="#1a1a1a" text-anchor="end" transform="translate(428.15 699.3) rotate(-42.5)">Number of panicles</text>
<text x="0" y="0" font-size="11" fill="#1a1a1a" text-anchor="end" transform="translate(445.12 699.3) rotate(-42.5)">Yield</text>
<text x="0" y="0" font-size="11" fill="#1a1a1a" text-anchor="end" transform="translate(466.29 699.3) rotate(-42.5)">Weight per grain</text>
<text x="0" y="0" font-size="11" fill="#1a1a1a" text-anchor="end" transform="translate(484.16 699.3) rotate(-42.5)">Number of filled grains</text>
<text x="0" y="0" font-size="11" fill="#1a1a1a" text-anchor="end" transform="translate(505.53 699.3) rotate(-42.5)">Percent filled grains</text>
<text x="0" y="0" font-size="11" fill="#1a1a1a" text-anchor="end" transform="translate(558.2 699.3) rotate(-42.5)">Growth rate</text>
<text x="0" y="0" font-size="11" fill="#1a1a1a" text-anchor="end" transform="translate(576.8 699.3) rotate(-42.5)">Height</text>
<text x="0" y="0" font-size="11" fill="#1a1a1a" text-anchor="end" transform="translate(599.1 699.3) rotate(-42.5)">Flag leaf length</text>
<text x="0" y="0" font-size="11" fill="#1a1a1a" text-anchor="end" transform="translate(617.2 699.3) rotate(-42.5)">Flag leaf width</text>
<text x="0" y="0" font-size="11" fill="#1a1a1a" text-anchor="end" transform="translate(635.4 699.3) rotate(-42.5)">Number of tillers</text>
<text x="0" y="0" font-size="11" fill="#1a1a1a" text-anchor="end" transform="translate(655.1 699.3) rotate(-42.5)">Number of panicles</text>
<text x="0" y="0" font-size="11" fill="#1a1a1a" text-anchor="end" transform="translate(670.5 699.3) rotate(-42.5)">Yield</text>
<text x="0" y="0" font-size="11" fill="#1a1a1a" text-anchor="end" transform="translate(692.3 699.3) rotate(-42.5)">Weight per grain</text>
<text x="0" y="0" font-size="11" fill="#1a1a1a" text-anchor="end" transform="translate(711.6 699.3) rotate(-42.5)">Number of filled grains</text>
<text x="0" y="0" font-size="11" fill="#1a1a1a" text-anchor="end" transform="translate(732.8 699.3) rotate(-42.5)">Percent filled grains</text>
<text x="61.25" y="659.4" font-size="12" fill="#222" text-anchor="middle" font-weight="normal" >Negative</text>
<text x="60.8" y="684.75" font-size="12" fill="#222" text-anchor="middle" font-weight="normal" >Positive</text>
<path d="M34.4 656.9H29.75V678.1H34.4" fill="none" stroke="#9a9a9a" stroke-width="0.9"/>
<text x="0" y="0" font-size="12" fill="#222" text-anchor="start" transform="translate(11 690.3) rotate(-90)">Effects on</text>
<text x="0" y="0" font-size="12" fill="#222" text-anchor="start" transform="translate(26 690.9) rotate(-90)">landrace</text>
<text x="399.5" y="815.8" font-size="12" fill="#000" text-anchor="middle" font-weight="bold" >Traits</text>
</svg></body></html>
